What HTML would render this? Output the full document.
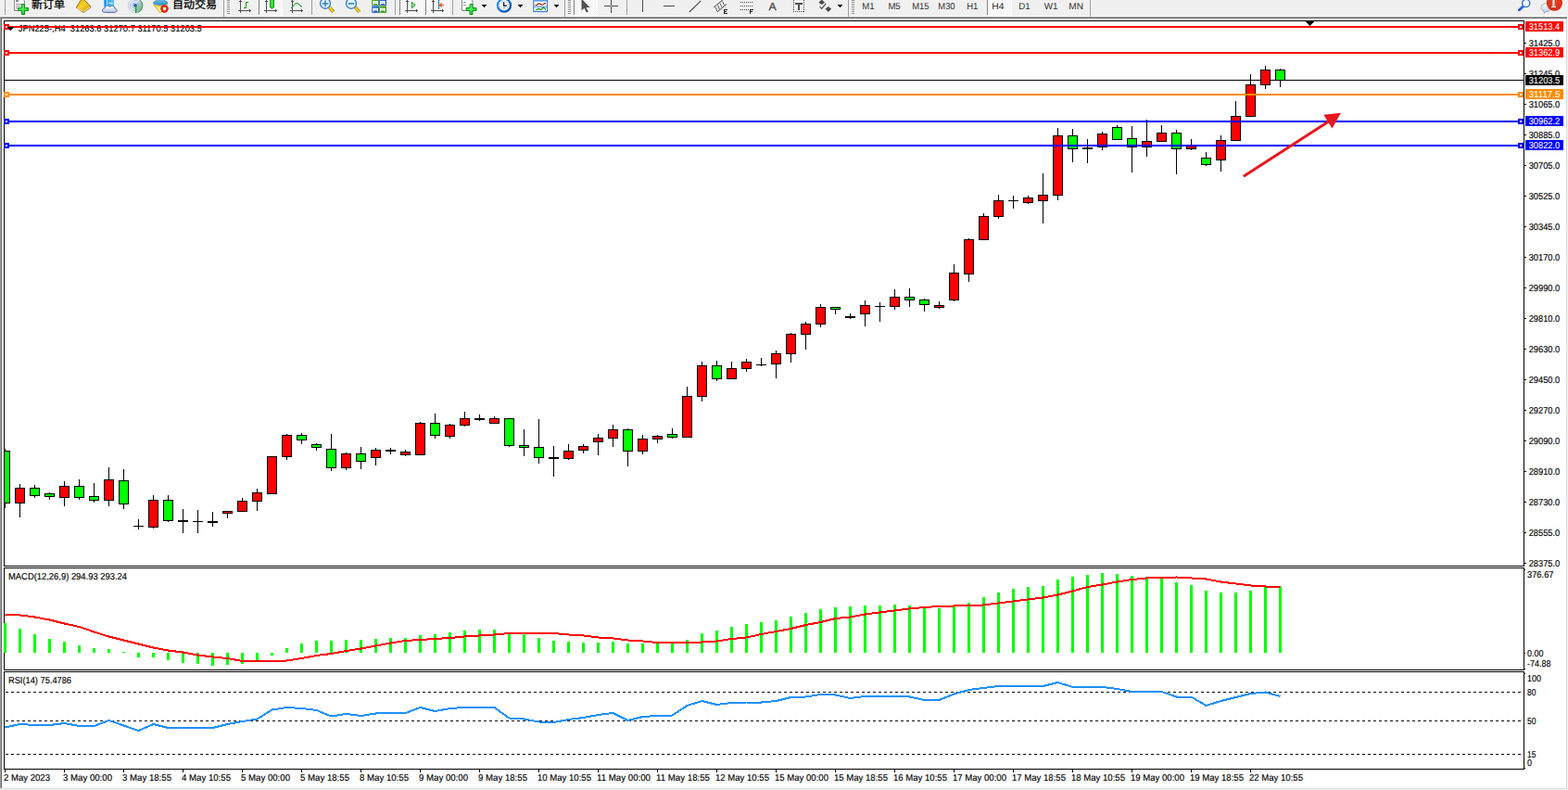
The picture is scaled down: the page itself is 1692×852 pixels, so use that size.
<!DOCTYPE html>
<html><head><meta charset="utf-8"><title>JPN225 H4</title>
<style>
html,body{margin:0;padding:0;background:#f0f0f0;overflow:hidden}
svg{display:block}
text{font-family:"Liberation Sans",sans-serif;white-space:pre}
</style></head><body>
<svg width="1692" height="852" viewBox="0 0 1692 852" shape-rendering="crispEdges" text-rendering="geometricPrecision">
<defs>
<radialGradient id="gplus" cx="0.4" cy="0.4" r="0.7"><stop offset="0" stop-color="#5cf56a"/><stop offset="1" stop-color="#12c424"/></radialGradient>
<linearGradient id="gold" x1="0" y1="0" x2="1" y2="1"><stop offset="0" stop-color="#d99a10"/><stop offset=".45" stop-color="#f8d22a"/><stop offset="1" stop-color="#c88a14"/></linearGradient>
<linearGradient id="cloud" x1="0" y1="0" x2="0" y2="1"><stop offset="0" stop-color="#ffffff"/><stop offset="1" stop-color="#b4c4de"/></linearGradient>
<linearGradient id="bluebox" x1="0" y1="0" x2="1" y2="0"><stop offset="0" stop-color="#0f8ff0"/><stop offset="1" stop-color="#6cc6ff"/></linearGradient>
<linearGradient id="sig" x1="0" y1="0" x2="1" y2="1"><stop offset="0" stop-color="#e8f2e8"/><stop offset="1" stop-color="#3a9e3a"/></linearGradient>
<linearGradient id="clk" x1="0" y1="0" x2="1" y2="1"><stop offset="0" stop-color="#34a4f4"/><stop offset="1" stop-color="#0444a8"/></linearGradient>
<linearGradient id="hat" x1="0" y1="0" x2="0" y2="1"><stop offset="0" stop-color="#7cc8ee"/><stop offset="1" stop-color="#2f94cc"/></linearGradient>
<linearGradient id="fun" x1="0" y1="0" x2="1" y2="1"><stop offset="0" stop-color="#f6d84a"/><stop offset=".6" stop-color="#fbf08a"/><stop offset="1" stop-color="#e0b020"/></linearGradient>
<radialGradient id="redc" cx="0.5" cy="0.5" r="0.5"><stop offset=".6" stop-color="#ee3410"/><stop offset="1" stop-color="#b81c0c"/></radialGradient>
<linearGradient id="tg" x1="0" y1="0" x2="1" y2="1"><stop offset="0" stop-color="#58b424"/><stop offset="1" stop-color="#2c860c"/></linearGradient>
<linearGradient id="tb" x1="0" y1="0" x2="1" y2="1"><stop offset="0" stop-color="#4a82ea"/><stop offset="1" stop-color="#0a38b0"/></linearGradient>
<radialGradient id="badge" cx="0.5" cy="0.35" r="0.7"><stop offset="0" stop-color="#e84828"/><stop offset="1" stop-color="#d02810"/></radialGradient>
<pattern id="chk" width="2" height="2" patternUnits="userSpaceOnUse"><rect width="2" height="2" fill="#fff"/><rect width="1" height="1" fill="#f0f0f0"/><rect x="1" y="1" width="1" height="1" fill="#f0f0f0"/></pattern>

<clipPath id="mainclip"><rect x="5" y="23" width="1639" height="587"/></clipPath>
<clipPath id="tbclip"><rect x="0" y="0" width="1692" height="18"/></clipPath>
<clipPath id="subclip"><rect x="5" y="613" width="1639" height="216"/></clipPath>
</defs>
<rect x="0" y="0" width="1692" height="852" fill="#f0f0f0"/>
<rect x="0" y="20" width="1690" height="830" fill="#fff"/>
<rect x="0" y="17" width="1692" height="1" fill="#f9f9f9"/>
<rect x="0" y="18" width="1691" height="1" fill="#a0a0a0"/>
<rect x="1" y="19" width="1690" height="1" fill="#696969"/>
<rect x="0" y="19" width="1" height="831" fill="#a0a0a0"/>
<rect x="1" y="20" width="1" height="830" fill="#696969"/>
<rect x="1690" y="20" width="1" height="831" fill="#d9d9d9"/>
<rect x="0" y="850" width="1691" height="1" fill="#dedede"/>
<rect x="1691" y="19" width="1" height="833" fill="#f4f4f4"/>
<rect x="4" y="22" width="1641" height="1" fill="#000"/>
<rect x="4" y="22" width="1" height="808" fill="#000"/>
<rect x="1644" y="22" width="1" height="808" fill="#000"/>
<rect x="4" y="610" width="1641" height="1" fill="#000"/>
<rect x="4" y="612" width="1641" height="1" fill="#000"/>
<rect x="4" y="722" width="1641" height="1" fill="#000"/>
<rect x="4" y="724" width="1641" height="1" fill="#000"/>
<rect x="4" y="829" width="1641" height="1" fill="#000"/>
<rect x="4" y="611" width="1" height="1" fill="#fff"/>
<rect x="4" y="723" width="1" height="1" fill="#fff"/>
<rect x="1644" y="611" width="1" height="1" fill="#fff"/>
<rect x="1644" y="723" width="1" height="1" fill="#fff"/>
<text x="19.8" y="34" fill="#000" stroke="#000" stroke-width="0.15" font-size="10" textLength="198" lengthAdjust="spacingAndGlyphs" xml:space="preserve">JPN225-,H4  31263.6 31270.7 31170.5 31203.5</text>
<rect x="5" y="86" width="1639" height="1" fill="#000"/>
<g clip-path="url(#mainclip)">
<rect x="5" y="484" width="1" height="64" fill="#000"/>
<rect x="0" y="486" width="11" height="57" fill="#000"/>
<rect x="1" y="487" width="9" height="55" fill="#00ff00"/>
<rect x="21" y="522" width="1" height="36" fill="#000"/>
<rect x="16" y="526" width="11" height="17" fill="#000"/>
<rect x="17" y="527" width="9" height="15" fill="#ff0000"/>
<rect x="37" y="523" width="1" height="14" fill="#000"/>
<rect x="32" y="526" width="11" height="9" fill="#000"/>
<rect x="33" y="527" width="9" height="7" fill="#00ff00"/>
<rect x="53" y="531" width="1" height="8" fill="#000"/>
<rect x="48" y="532" width="11" height="4" fill="#000"/>
<rect x="49" y="533" width="9" height="2" fill="#00ff00"/>
<rect x="69" y="519" width="1" height="27" fill="#000"/>
<rect x="64" y="524" width="11" height="13" fill="#000"/>
<rect x="65" y="525" width="9" height="11" fill="#ff0000"/>
<rect x="85" y="517" width="1" height="22" fill="#000"/>
<rect x="80" y="524" width="11" height="13" fill="#000"/>
<rect x="81" y="525" width="9" height="11" fill="#00ff00"/>
<rect x="101" y="521" width="1" height="21" fill="#000"/>
<rect x="96" y="535" width="11" height="5" fill="#000"/>
<rect x="97" y="536" width="9" height="3" fill="#00ff00"/>
<rect x="117" y="504" width="1" height="42" fill="#000"/>
<rect x="112" y="517" width="11" height="23" fill="#000"/>
<rect x="113" y="518" width="9" height="21" fill="#ff0000"/>
<rect x="133" y="506" width="1" height="43" fill="#000"/>
<rect x="128" y="518" width="11" height="26" fill="#000"/>
<rect x="129" y="519" width="9" height="24" fill="#00ff00"/>
<rect x="149" y="560" width="1" height="11" fill="#000"/>
<rect x="144" y="567" width="11" height="1" fill="#000"/>
<rect x="165" y="534" width="1" height="36" fill="#000"/>
<rect x="160" y="539" width="11" height="30" fill="#000"/>
<rect x="161" y="540" width="9" height="28" fill="#ff0000"/>
<rect x="181" y="534" width="1" height="29" fill="#000"/>
<rect x="176" y="539" width="11" height="23" fill="#000"/>
<rect x="177" y="540" width="9" height="21" fill="#00ff00"/>
<rect x="197" y="549" width="1" height="26" fill="#000"/>
<rect x="192" y="561" width="11" height="2" fill="#000"/>
<rect x="213" y="550" width="1" height="25" fill="#000"/>
<rect x="208" y="562" width="11" height="1" fill="#000"/>
<rect x="229" y="552" width="1" height="16" fill="#000"/>
<rect x="224" y="562" width="11" height="2" fill="#000"/>
<rect x="245" y="551" width="1" height="8" fill="#000"/>
<rect x="240" y="551" width="11" height="3" fill="#000"/>
<rect x="241" y="552" width="9" height="1" fill="#ff0000"/>
<rect x="261" y="537" width="1" height="15" fill="#000"/>
<rect x="256" y="540" width="11" height="12" fill="#000"/>
<rect x="257" y="541" width="9" height="10" fill="#ff0000"/>
<rect x="277" y="527" width="1" height="24" fill="#000"/>
<rect x="272" y="531" width="11" height="10" fill="#000"/>
<rect x="273" y="532" width="9" height="8" fill="#ff0000"/>
<rect x="293" y="492" width="1" height="41" fill="#000"/>
<rect x="288" y="492" width="11" height="41" fill="#000"/>
<rect x="289" y="493" width="9" height="39" fill="#ff0000"/>
<rect x="309" y="468" width="1" height="28" fill="#000"/>
<rect x="304" y="469" width="11" height="24" fill="#000"/>
<rect x="305" y="470" width="9" height="22" fill="#ff0000"/>
<rect x="325" y="467" width="1" height="12" fill="#000"/>
<rect x="320" y="469" width="11" height="6" fill="#000"/>
<rect x="321" y="470" width="9" height="4" fill="#00ff00"/>
<rect x="341" y="478" width="1" height="8" fill="#000"/>
<rect x="336" y="479" width="11" height="4" fill="#000"/>
<rect x="337" y="480" width="9" height="2" fill="#00ff00"/>
<rect x="357" y="468" width="1" height="40" fill="#000"/>
<rect x="352" y="484" width="11" height="21" fill="#000"/>
<rect x="353" y="485" width="9" height="19" fill="#00ff00"/>
<rect x="373" y="488" width="1" height="19" fill="#000"/>
<rect x="368" y="489" width="11" height="16" fill="#000"/>
<rect x="369" y="490" width="9" height="14" fill="#ff0000"/>
<rect x="389" y="482" width="1" height="24" fill="#000"/>
<rect x="384" y="489" width="11" height="9" fill="#000"/>
<rect x="385" y="490" width="9" height="7" fill="#00ff00"/>
<rect x="405" y="483" width="1" height="19" fill="#000"/>
<rect x="400" y="485" width="11" height="9" fill="#000"/>
<rect x="401" y="486" width="9" height="7" fill="#ff0000"/>
<rect x="421" y="483" width="1" height="7" fill="#000"/>
<rect x="416" y="485" width="11" height="2" fill="#000"/>
<rect x="437" y="485" width="1" height="7" fill="#000"/>
<rect x="432" y="487" width="11" height="4" fill="#000"/>
<rect x="433" y="488" width="9" height="2" fill="#ff0000"/>
<rect x="453" y="455" width="1" height="36" fill="#000"/>
<rect x="448" y="456" width="11" height="35" fill="#000"/>
<rect x="449" y="457" width="9" height="33" fill="#ff0000"/>
<rect x="469" y="446" width="1" height="27" fill="#000"/>
<rect x="464" y="456" width="11" height="14" fill="#000"/>
<rect x="465" y="457" width="9" height="12" fill="#00ff00"/>
<rect x="485" y="457" width="1" height="16" fill="#000"/>
<rect x="480" y="458" width="11" height="13" fill="#000"/>
<rect x="481" y="459" width="9" height="11" fill="#ff0000"/>
<rect x="501" y="444" width="1" height="16" fill="#000"/>
<rect x="496" y="451" width="11" height="8" fill="#000"/>
<rect x="497" y="452" width="9" height="6" fill="#ff0000"/>
<rect x="517" y="447" width="1" height="7" fill="#000"/>
<rect x="512" y="451" width="11" height="2" fill="#000"/>
<rect x="533" y="449" width="1" height="8" fill="#000"/>
<rect x="528" y="451" width="11" height="6" fill="#000"/>
<rect x="529" y="452" width="9" height="4" fill="#ff0000"/>
<rect x="549" y="451" width="1" height="31" fill="#000"/>
<rect x="544" y="451" width="11" height="30" fill="#000"/>
<rect x="545" y="452" width="9" height="28" fill="#00ff00"/>
<rect x="565" y="463" width="1" height="29" fill="#000"/>
<rect x="560" y="480" width="11" height="3" fill="#000"/>
<rect x="561" y="481" width="9" height="1" fill="#00ff00"/>
<rect x="581" y="452" width="1" height="48" fill="#000"/>
<rect x="576" y="482" width="11" height="12" fill="#000"/>
<rect x="577" y="483" width="9" height="10" fill="#00ff00"/>
<rect x="597" y="481" width="1" height="33" fill="#000"/>
<rect x="592" y="493" width="11" height="2" fill="#000"/>
<rect x="613" y="479" width="1" height="17" fill="#000"/>
<rect x="608" y="486" width="11" height="9" fill="#000"/>
<rect x="609" y="487" width="9" height="7" fill="#ff0000"/>
<rect x="629" y="479" width="1" height="10" fill="#000"/>
<rect x="624" y="481" width="11" height="5" fill="#000"/>
<rect x="625" y="482" width="9" height="3" fill="#ff0000"/>
<rect x="645" y="468" width="1" height="23" fill="#000"/>
<rect x="640" y="472" width="11" height="5" fill="#000"/>
<rect x="641" y="473" width="9" height="3" fill="#ff0000"/>
<rect x="661" y="458" width="1" height="24" fill="#000"/>
<rect x="656" y="463" width="11" height="10" fill="#000"/>
<rect x="657" y="464" width="9" height="8" fill="#ff0000"/>
<rect x="677" y="462" width="1" height="41" fill="#000"/>
<rect x="672" y="463" width="11" height="24" fill="#000"/>
<rect x="673" y="464" width="9" height="22" fill="#00ff00"/>
<rect x="693" y="469" width="1" height="21" fill="#000"/>
<rect x="688" y="473" width="11" height="14" fill="#000"/>
<rect x="689" y="474" width="9" height="12" fill="#ff0000"/>
<rect x="709" y="469" width="1" height="9" fill="#000"/>
<rect x="704" y="470" width="11" height="4" fill="#000"/>
<rect x="705" y="471" width="9" height="2" fill="#ff0000"/>
<rect x="725" y="462" width="1" height="11" fill="#000"/>
<rect x="720" y="468" width="11" height="4" fill="#000"/>
<rect x="721" y="469" width="9" height="2" fill="#00ff00"/>
<rect x="741" y="417" width="1" height="55" fill="#000"/>
<rect x="736" y="427" width="11" height="45" fill="#000"/>
<rect x="737" y="428" width="9" height="43" fill="#ff0000"/>
<rect x="757" y="390" width="1" height="43" fill="#000"/>
<rect x="752" y="394" width="11" height="34" fill="#000"/>
<rect x="753" y="395" width="9" height="32" fill="#ff0000"/>
<rect x="773" y="389" width="1" height="22" fill="#000"/>
<rect x="768" y="394" width="11" height="15" fill="#000"/>
<rect x="769" y="395" width="9" height="13" fill="#00ff00"/>
<rect x="789" y="390" width="1" height="19" fill="#000"/>
<rect x="784" y="397" width="11" height="12" fill="#000"/>
<rect x="785" y="398" width="9" height="10" fill="#ff0000"/>
<rect x="805" y="387" width="1" height="14" fill="#000"/>
<rect x="800" y="390" width="11" height="8" fill="#000"/>
<rect x="801" y="391" width="9" height="6" fill="#ff0000"/>
<rect x="821" y="386" width="1" height="9" fill="#000"/>
<rect x="816" y="393" width="11" height="1" fill="#000"/>
<rect x="837" y="378" width="1" height="30" fill="#000"/>
<rect x="832" y="381" width="11" height="12" fill="#000"/>
<rect x="833" y="382" width="9" height="10" fill="#ff0000"/>
<rect x="853" y="359" width="1" height="32" fill="#000"/>
<rect x="848" y="360" width="11" height="22" fill="#000"/>
<rect x="849" y="361" width="9" height="20" fill="#ff0000"/>
<rect x="869" y="347" width="1" height="30" fill="#000"/>
<rect x="864" y="349" width="11" height="12" fill="#000"/>
<rect x="865" y="350" width="9" height="10" fill="#ff0000"/>
<rect x="885" y="328" width="1" height="25" fill="#000"/>
<rect x="880" y="331" width="11" height="19" fill="#000"/>
<rect x="881" y="332" width="9" height="17" fill="#ff0000"/>
<rect x="901" y="331" width="1" height="8" fill="#000"/>
<rect x="896" y="331" width="11" height="3" fill="#000"/>
<rect x="897" y="332" width="9" height="1" fill="#00ff00"/>
<rect x="917" y="338" width="1" height="6" fill="#000"/>
<rect x="912" y="341" width="11" height="2" fill="#000"/>
<rect x="933" y="324" width="1" height="28" fill="#000"/>
<rect x="928" y="329" width="11" height="10" fill="#000"/>
<rect x="929" y="330" width="9" height="8" fill="#ff0000"/>
<rect x="949" y="326" width="1" height="21" fill="#000"/>
<rect x="944" y="330" width="11" height="1" fill="#000"/>
<rect x="965" y="312" width="1" height="22" fill="#000"/>
<rect x="960" y="320" width="11" height="11" fill="#000"/>
<rect x="961" y="321" width="9" height="9" fill="#ff0000"/>
<rect x="981" y="311" width="1" height="20" fill="#000"/>
<rect x="976" y="320" width="11" height="4" fill="#000"/>
<rect x="977" y="321" width="9" height="2" fill="#00ff00"/>
<rect x="997" y="322" width="1" height="14" fill="#000"/>
<rect x="992" y="323" width="11" height="6" fill="#000"/>
<rect x="993" y="324" width="9" height="4" fill="#00ff00"/>
<rect x="1013" y="325" width="1" height="8" fill="#000"/>
<rect x="1008" y="329" width="11" height="3" fill="#000"/>
<rect x="1009" y="330" width="9" height="1" fill="#ff0000"/>
<rect x="1029" y="285" width="1" height="40" fill="#000"/>
<rect x="1024" y="294" width="11" height="30" fill="#000"/>
<rect x="1025" y="295" width="9" height="28" fill="#ff0000"/>
<rect x="1045" y="257" width="1" height="47" fill="#000"/>
<rect x="1040" y="258" width="11" height="38" fill="#000"/>
<rect x="1041" y="259" width="9" height="36" fill="#ff0000"/>
<rect x="1061" y="230" width="1" height="29" fill="#000"/>
<rect x="1056" y="233" width="11" height="26" fill="#000"/>
<rect x="1057" y="234" width="9" height="24" fill="#ff0000"/>
<rect x="1077" y="210" width="1" height="26" fill="#000"/>
<rect x="1072" y="216" width="11" height="18" fill="#000"/>
<rect x="1073" y="217" width="9" height="16" fill="#ff0000"/>
<rect x="1093" y="211" width="1" height="14" fill="#000"/>
<rect x="1088" y="216" width="11" height="1" fill="#000"/>
<rect x="1109" y="211" width="1" height="9" fill="#000"/>
<rect x="1104" y="213" width="11" height="6" fill="#000"/>
<rect x="1105" y="214" width="9" height="4" fill="#ff0000"/>
<rect x="1125" y="187" width="1" height="54" fill="#000"/>
<rect x="1120" y="210" width="11" height="7" fill="#000"/>
<rect x="1121" y="211" width="9" height="5" fill="#ff0000"/>
<rect x="1141" y="138" width="1" height="78" fill="#000"/>
<rect x="1136" y="146" width="11" height="65" fill="#000"/>
<rect x="1137" y="147" width="9" height="63" fill="#ff0000"/>
<rect x="1157" y="139" width="1" height="36" fill="#000"/>
<rect x="1152" y="146" width="11" height="15" fill="#000"/>
<rect x="1153" y="147" width="9" height="13" fill="#00ff00"/>
<rect x="1173" y="150" width="1" height="26" fill="#000"/>
<rect x="1168" y="159" width="11" height="2" fill="#000"/>
<rect x="1189" y="142" width="1" height="20" fill="#000"/>
<rect x="1184" y="144" width="11" height="15" fill="#000"/>
<rect x="1185" y="145" width="9" height="13" fill="#ff0000"/>
<rect x="1205" y="135" width="1" height="16" fill="#000"/>
<rect x="1200" y="137" width="11" height="14" fill="#000"/>
<rect x="1201" y="138" width="9" height="12" fill="#00ff00"/>
<rect x="1221" y="136" width="1" height="50" fill="#000"/>
<rect x="1216" y="149" width="11" height="10" fill="#000"/>
<rect x="1217" y="150" width="9" height="8" fill="#00ff00"/>
<rect x="1237" y="129" width="1" height="40" fill="#000"/>
<rect x="1232" y="152" width="11" height="7" fill="#000"/>
<rect x="1233" y="153" width="9" height="5" fill="#ff0000"/>
<rect x="1253" y="135" width="1" height="18" fill="#000"/>
<rect x="1248" y="143" width="11" height="10" fill="#000"/>
<rect x="1249" y="144" width="9" height="8" fill="#ff0000"/>
<rect x="1269" y="140" width="1" height="48" fill="#000"/>
<rect x="1264" y="143" width="11" height="18" fill="#000"/>
<rect x="1265" y="144" width="9" height="16" fill="#00ff00"/>
<rect x="1285" y="150" width="1" height="12" fill="#000"/>
<rect x="1280" y="157" width="11" height="4" fill="#000"/>
<rect x="1281" y="158" width="9" height="2" fill="#ff0000"/>
<rect x="1301" y="164" width="1" height="15" fill="#000"/>
<rect x="1296" y="170" width="11" height="8" fill="#000"/>
<rect x="1297" y="171" width="9" height="6" fill="#00ff00"/>
<rect x="1317" y="146" width="1" height="39" fill="#000"/>
<rect x="1312" y="151" width="11" height="22" fill="#000"/>
<rect x="1313" y="152" width="9" height="20" fill="#ff0000"/>
<rect x="1333" y="109" width="1" height="43" fill="#000"/>
<rect x="1328" y="125" width="11" height="27" fill="#000"/>
<rect x="1329" y="126" width="9" height="25" fill="#ff0000"/>
<rect x="1349" y="80" width="1" height="46" fill="#000"/>
<rect x="1344" y="91" width="11" height="35" fill="#000"/>
<rect x="1345" y="92" width="9" height="33" fill="#ff0000"/>
<rect x="1365" y="71" width="1" height="25" fill="#000"/>
<rect x="1360" y="75" width="11" height="17" fill="#000"/>
<rect x="1361" y="76" width="9" height="15" fill="#ff0000"/>
<rect x="1381" y="74" width="1" height="20" fill="#000"/>
<rect x="1376" y="75" width="11" height="12" fill="#000"/>
<rect x="1377" y="76" width="9" height="10" fill="#00ff00"/>
</g>
<rect x="1409" y="23" width="9" height="1" fill="#000"/>
<rect x="1410" y="24" width="7" height="1" fill="#000"/>
<rect x="1411" y="25" width="5" height="1" fill="#000"/>
<rect x="1412" y="26" width="3" height="1" fill="#000"/>
<rect x="1413" y="27" width="1" height="1" fill="#000"/>
<rect x="1645" y="46" width="2" height="1" fill="#000"/>
<text x="1649.7" y="50" fill="#000" stroke="#000" stroke-width="0.15" font-size="10" textLength="33.6" lengthAdjust="spacingAndGlyphs" xml:space="preserve">31425.0</text>
<rect x="1645" y="79" width="2" height="1" fill="#000"/>
<text x="1649.7" y="83" fill="#000" stroke="#000" stroke-width="0.15" font-size="10" textLength="33.6" lengthAdjust="spacingAndGlyphs" xml:space="preserve">31245.0</text>
<rect x="1645" y="112" width="2" height="1" fill="#000"/>
<text x="1649.7" y="116" fill="#000" stroke="#000" stroke-width="0.15" font-size="10" textLength="33.6" lengthAdjust="spacingAndGlyphs" xml:space="preserve">31065.0</text>
<rect x="1645" y="145" width="2" height="1" fill="#000"/>
<text x="1649.7" y="149" fill="#000" stroke="#000" stroke-width="0.15" font-size="10" textLength="33.6" lengthAdjust="spacingAndGlyphs" xml:space="preserve">30885.0</text>
<rect x="1645" y="178" width="2" height="1" fill="#000"/>
<text x="1649.7" y="182" fill="#000" stroke="#000" stroke-width="0.15" font-size="10" textLength="33.6" lengthAdjust="spacingAndGlyphs" xml:space="preserve">30705.0</text>
<rect x="1645" y="211" width="2" height="1" fill="#000"/>
<text x="1649.7" y="215" fill="#000" stroke="#000" stroke-width="0.15" font-size="10" textLength="33.6" lengthAdjust="spacingAndGlyphs" xml:space="preserve">30525.0</text>
<rect x="1645" y="244" width="2" height="1" fill="#000"/>
<text x="1649.7" y="248" fill="#000" stroke="#000" stroke-width="0.15" font-size="10" textLength="33.6" lengthAdjust="spacingAndGlyphs" xml:space="preserve">30345.0</text>
<rect x="1645" y="277" width="2" height="1" fill="#000"/>
<text x="1649.7" y="281" fill="#000" stroke="#000" stroke-width="0.15" font-size="10" textLength="33.6" lengthAdjust="spacingAndGlyphs" xml:space="preserve">30170.0</text>
<rect x="1645" y="310" width="2" height="1" fill="#000"/>
<text x="1649.7" y="314" fill="#000" stroke="#000" stroke-width="0.15" font-size="10" textLength="33.6" lengthAdjust="spacingAndGlyphs" xml:space="preserve">29990.0</text>
<rect x="1645" y="343" width="2" height="1" fill="#000"/>
<text x="1649.7" y="347" fill="#000" stroke="#000" stroke-width="0.15" font-size="10" textLength="33.6" lengthAdjust="spacingAndGlyphs" xml:space="preserve">29810.0</text>
<rect x="1645" y="376" width="2" height="1" fill="#000"/>
<text x="1649.7" y="380" fill="#000" stroke="#000" stroke-width="0.15" font-size="10" textLength="33.6" lengthAdjust="spacingAndGlyphs" xml:space="preserve">29630.0</text>
<rect x="1645" y="409" width="2" height="1" fill="#000"/>
<text x="1649.7" y="413" fill="#000" stroke="#000" stroke-width="0.15" font-size="10" textLength="33.6" lengthAdjust="spacingAndGlyphs" xml:space="preserve">29450.0</text>
<rect x="1645" y="442" width="2" height="1" fill="#000"/>
<text x="1649.7" y="446" fill="#000" stroke="#000" stroke-width="0.15" font-size="10" textLength="33.6" lengthAdjust="spacingAndGlyphs" xml:space="preserve">29270.0</text>
<rect x="1645" y="475" width="2" height="1" fill="#000"/>
<text x="1649.7" y="479" fill="#000" stroke="#000" stroke-width="0.15" font-size="10" textLength="33.6" lengthAdjust="spacingAndGlyphs" xml:space="preserve">29090.0</text>
<rect x="1645" y="508" width="2" height="1" fill="#000"/>
<text x="1649.7" y="512" fill="#000" stroke="#000" stroke-width="0.15" font-size="10" textLength="33.6" lengthAdjust="spacingAndGlyphs" xml:space="preserve">28910.0</text>
<rect x="1645" y="541" width="2" height="1" fill="#000"/>
<text x="1649.7" y="545" fill="#000" stroke="#000" stroke-width="0.15" font-size="10" textLength="33.6" lengthAdjust="spacingAndGlyphs" xml:space="preserve">28730.0</text>
<rect x="1645" y="574" width="2" height="1" fill="#000"/>
<text x="1649.7" y="578" fill="#000" stroke="#000" stroke-width="0.15" font-size="10" textLength="33.6" lengthAdjust="spacingAndGlyphs" xml:space="preserve">28555.0</text>
<rect x="1645" y="607" width="2" height="1" fill="#000"/>
<text x="1649.7" y="611" fill="#000" stroke="#000" stroke-width="0.15" font-size="10" textLength="33.6" lengthAdjust="spacingAndGlyphs" xml:space="preserve">28375.0</text>
<rect x="1646" y="81" width="41" height="11" fill="#000"/>
<text x="1649.7" y="90" fill="#fff" stroke="#fff" stroke-width="0.08" font-size="10" textLength="33.6" lengthAdjust="spacingAndGlyphs" xml:space="preserve">31203.5</text>
<rect x="5" y="28" width="1639" height="2" fill="#ff0000"/>
<rect x="4" y="26" width="6" height="6" fill="#ff0000"/>
<rect x="6" y="28" width="2" height="2" fill="#fff"/>
<rect x="1638" y="26" width="6" height="6" fill="#ff0000"/>
<rect x="1640" y="28" width="2" height="2" fill="#fff"/>
<rect x="1646" y="23" width="41" height="11" fill="#ff0000"/>
<text x="1649.7" y="32" fill="#fff" stroke="#fff" stroke-width="0.08" font-size="10" textLength="33.6" lengthAdjust="spacingAndGlyphs" xml:space="preserve">31513.4</text>
<rect x="5" y="56" width="1639" height="2" fill="#ff0000"/>
<rect x="4" y="54" width="6" height="6" fill="#ff0000"/>
<rect x="6" y="56" width="2" height="2" fill="#fff"/>
<rect x="1638" y="54" width="6" height="6" fill="#ff0000"/>
<rect x="1640" y="56" width="2" height="2" fill="#fff"/>
<rect x="1646" y="51" width="41" height="11" fill="#ff0000"/>
<text x="1649.7" y="60" fill="#fff" stroke="#fff" stroke-width="0.08" font-size="10" textLength="33.6" lengthAdjust="spacingAndGlyphs" xml:space="preserve">31362.9</text>
<rect x="5" y="101" width="1639" height="2" fill="#ff8c00"/>
<rect x="4" y="99" width="6" height="6" fill="#ff8c00"/>
<rect x="6" y="101" width="2" height="2" fill="#fff"/>
<rect x="1638" y="99" width="6" height="6" fill="#ff8c00"/>
<rect x="1640" y="101" width="2" height="2" fill="#fff"/>
<rect x="1646" y="96" width="41" height="11" fill="#ff8c00"/>
<text x="1649.7" y="105" fill="#fff" stroke="#fff" stroke-width="0.08" font-size="10" textLength="33.6" lengthAdjust="spacingAndGlyphs" xml:space="preserve">31117.5</text>
<rect x="5" y="130" width="1639" height="2" fill="#0000ff"/>
<rect x="4" y="128" width="6" height="6" fill="#0000ff"/>
<rect x="6" y="130" width="2" height="2" fill="#fff"/>
<rect x="1638" y="128" width="6" height="6" fill="#0000ff"/>
<rect x="1640" y="130" width="2" height="2" fill="#fff"/>
<rect x="1646" y="125" width="41" height="11" fill="#0000ff"/>
<text x="1649.7" y="134" fill="#fff" stroke="#fff" stroke-width="0.08" font-size="10" textLength="33.6" lengthAdjust="spacingAndGlyphs" xml:space="preserve">30962.2</text>
<rect x="5" y="156" width="1639" height="2" fill="#0000ff"/>
<rect x="4" y="154" width="6" height="6" fill="#0000ff"/>
<rect x="6" y="156" width="2" height="2" fill="#fff"/>
<rect x="1638" y="154" width="6" height="6" fill="#0000ff"/>
<rect x="1640" y="156" width="2" height="2" fill="#fff"/>
<rect x="1646" y="151" width="41" height="11" fill="#0000ff"/>
<text x="1649.7" y="160" fill="#fff" stroke="#fff" stroke-width="0.08" font-size="10" textLength="33.6" lengthAdjust="spacingAndGlyphs" xml:space="preserve">30822.0</text>
<rect x="8" y="29" width="7" height="1" fill="#000"/>
<rect x="9" y="30" width="5" height="1" fill="#000"/>
<rect x="10" y="31" width="3" height="1" fill="#000"/>
<rect x="11" y="32" width="1" height="1" fill="#000"/>
<g shape-rendering="geometricPrecision"><line x1="1341.8" y1="190.3" x2="1436" y2="129.6" stroke="#e8161f" stroke-width="3"/><path d="M1447 121.8L1428.2 123.7L1437.5 138.5z" fill="#e8161f"/></g>
<rect x="4" y="672" width="3" height="32" fill="#00ff00"/>
<rect x="20" y="678" width="3" height="26" fill="#00ff00"/>
<rect x="36" y="684" width="3" height="20" fill="#00ff00"/>
<rect x="52" y="689" width="3" height="15" fill="#00ff00"/>
<rect x="68" y="692" width="3" height="12" fill="#00ff00"/>
<rect x="84" y="696" width="3" height="8" fill="#00ff00"/>
<rect x="100" y="699" width="3" height="5" fill="#00ff00"/>
<rect x="116" y="700" width="3" height="4" fill="#00ff00"/>
<rect x="132" y="703" width="3" height="1" fill="#00ff00"/>
<rect x="148" y="704" width="3" height="5" fill="#00ff00"/>
<rect x="164" y="704" width="3" height="5" fill="#00ff00"/>
<rect x="180" y="704" width="3" height="8" fill="#00ff00"/>
<rect x="196" y="704" width="3" height="11" fill="#00ff00"/>
<rect x="212" y="704" width="3" height="12" fill="#00ff00"/>
<rect x="228" y="704" width="3" height="14" fill="#00ff00"/>
<rect x="244" y="704" width="3" height="13" fill="#00ff00"/>
<rect x="260" y="704" width="3" height="12" fill="#00ff00"/>
<rect x="276" y="704" width="3" height="8" fill="#00ff00"/>
<rect x="292" y="704" width="3" height="3" fill="#00ff00"/>
<rect x="308" y="699" width="3" height="5" fill="#00ff00"/>
<rect x="324" y="694" width="3" height="10" fill="#00ff00"/>
<rect x="340" y="691" width="3" height="13" fill="#00ff00"/>
<rect x="356" y="691" width="3" height="13" fill="#00ff00"/>
<rect x="372" y="690" width="3" height="14" fill="#00ff00"/>
<rect x="388" y="690" width="3" height="14" fill="#00ff00"/>
<rect x="404" y="689" width="3" height="15" fill="#00ff00"/>
<rect x="420" y="688" width="3" height="16" fill="#00ff00"/>
<rect x="436" y="688" width="3" height="16" fill="#00ff00"/>
<rect x="452" y="685" width="3" height="19" fill="#00ff00"/>
<rect x="468" y="684" width="3" height="20" fill="#00ff00"/>
<rect x="484" y="682" width="3" height="22" fill="#00ff00"/>
<rect x="500" y="680" width="3" height="24" fill="#00ff00"/>
<rect x="516" y="679" width="3" height="25" fill="#00ff00"/>
<rect x="532" y="679" width="3" height="25" fill="#00ff00"/>
<rect x="548" y="682" width="3" height="22" fill="#00ff00"/>
<rect x="564" y="684" width="3" height="20" fill="#00ff00"/>
<rect x="580" y="688" width="3" height="16" fill="#00ff00"/>
<rect x="596" y="691" width="3" height="13" fill="#00ff00"/>
<rect x="612" y="692" width="3" height="12" fill="#00ff00"/>
<rect x="628" y="693" width="3" height="11" fill="#00ff00"/>
<rect x="644" y="693" width="3" height="11" fill="#00ff00"/>
<rect x="660" y="692" width="3" height="12" fill="#00ff00"/>
<rect x="676" y="694" width="3" height="10" fill="#00ff00"/>
<rect x="692" y="694" width="3" height="10" fill="#00ff00"/>
<rect x="708" y="694" width="3" height="10" fill="#00ff00"/>
<rect x="724" y="693" width="3" height="11" fill="#00ff00"/>
<rect x="740" y="690" width="3" height="14" fill="#00ff00"/>
<rect x="756" y="683" width="3" height="21" fill="#00ff00"/>
<rect x="772" y="680" width="3" height="24" fill="#00ff00"/>
<rect x="788" y="676" width="3" height="28" fill="#00ff00"/>
<rect x="804" y="673" width="3" height="31" fill="#00ff00"/>
<rect x="820" y="671" width="3" height="33" fill="#00ff00"/>
<rect x="836" y="669" width="3" height="35" fill="#00ff00"/>
<rect x="852" y="665" width="3" height="39" fill="#00ff00"/>
<rect x="868" y="661" width="3" height="43" fill="#00ff00"/>
<rect x="884" y="657" width="3" height="47" fill="#00ff00"/>
<rect x="900" y="655" width="3" height="49" fill="#00ff00"/>
<rect x="916" y="654" width="3" height="50" fill="#00ff00"/>
<rect x="932" y="653" width="3" height="51" fill="#00ff00"/>
<rect x="948" y="653" width="3" height="51" fill="#00ff00"/>
<rect x="964" y="652" width="3" height="52" fill="#00ff00"/>
<rect x="980" y="653" width="3" height="51" fill="#00ff00"/>
<rect x="996" y="654" width="3" height="50" fill="#00ff00"/>
<rect x="1012" y="656" width="3" height="48" fill="#00ff00"/>
<rect x="1028" y="654" width="3" height="50" fill="#00ff00"/>
<rect x="1044" y="650" width="3" height="54" fill="#00ff00"/>
<rect x="1060" y="644" width="3" height="60" fill="#00ff00"/>
<rect x="1076" y="639" width="3" height="65" fill="#00ff00"/>
<rect x="1092" y="635" width="3" height="69" fill="#00ff00"/>
<rect x="1108" y="633" width="3" height="71" fill="#00ff00"/>
<rect x="1124" y="632" width="3" height="72" fill="#00ff00"/>
<rect x="1140" y="625" width="3" height="79" fill="#00ff00"/>
<rect x="1156" y="622" width="3" height="82" fill="#00ff00"/>
<rect x="1172" y="620" width="3" height="84" fill="#00ff00"/>
<rect x="1188" y="618" width="3" height="86" fill="#00ff00"/>
<rect x="1204" y="619" width="3" height="85" fill="#00ff00"/>
<rect x="1220" y="621" width="3" height="83" fill="#00ff00"/>
<rect x="1236" y="622" width="3" height="82" fill="#00ff00"/>
<rect x="1252" y="624" width="3" height="80" fill="#00ff00"/>
<rect x="1268" y="628" width="3" height="76" fill="#00ff00"/>
<rect x="1284" y="631" width="3" height="73" fill="#00ff00"/>
<rect x="1300" y="637" width="3" height="67" fill="#00ff00"/>
<rect x="1316" y="639" width="3" height="65" fill="#00ff00"/>
<rect x="1332" y="639" width="3" height="65" fill="#00ff00"/>
<rect x="1348" y="637" width="3" height="67" fill="#00ff00"/>
<rect x="1364" y="633" width="3" height="71" fill="#00ff00"/>
<rect x="1380" y="633" width="3" height="71" fill="#00ff00"/>
<g clip-path="url(#subclip)"><polyline points="5.5,663 21.5,663.5 37.5,665.5 53.5,668.5 69.5,672.5 85.5,676 101.5,681.5 117.5,686.5 133.5,690.5 149.5,694.5 165.5,698.5 181.5,701.5 197.5,703.5 213.5,706.5 229.5,708.5 245.5,710 261.5,713 277.5,713 293.5,713 309.5,712.5 325.5,710 341.5,707 357.5,705 373.5,702 389.5,699.5 405.5,696.5 421.5,693.5 437.5,691 453.5,690 469.5,689 485.5,688 501.5,686.5 517.5,685.5 533.5,684.5 549.5,683 565.5,682.5 581.5,682.5 597.5,683 613.5,684.5 629.5,685.5 645.5,687.5 661.5,688.5 677.5,690.5 693.5,691.5 709.5,693 725.5,693 741.5,693 757.5,692.5 773.5,691.5 789.5,689 805.5,687.5 821.5,684 837.5,681 853.5,678 869.5,674 885.5,671 901.5,667 917.5,665.5 933.5,662.5 949.5,660.5 965.5,658.5 981.5,656.5 997.5,655 1013.5,654 1029.5,653.5 1045.5,653 1061.5,652.5 1077.5,650.5 1093.5,648.5 1109.5,646.5 1125.5,644.5 1141.5,641.5 1157.5,637.5 1173.5,633 1189.5,630.5 1205.5,627.5 1221.5,625 1237.5,623.5 1253.5,623 1269.5,622.5 1285.5,623.5 1301.5,624.5 1317.5,627.5 1333.5,629.5 1349.5,631.5 1365.5,632.5 1381.5,633" fill="none" stroke="#ff0000" stroke-width="2"/></g>
<text x="9" y="625" fill="#000" stroke="#000" stroke-width="0.15" font-size="10" textLength="128" lengthAdjust="spacingAndGlyphs" xml:space="preserve">MACD(12,26,9) 294.93 293.24</text>
<rect x="1645" y="614" width="1" height="1" fill="#000"/>
<text x="1648" y="623" fill="#000" stroke="#000" stroke-width="0.15" font-size="10" textLength="28.5" lengthAdjust="spacingAndGlyphs" xml:space="preserve">376.67</text>
<text x="1648" y="708" fill="#000" stroke="#000" stroke-width="0.15" font-size="10" textLength="17.5" lengthAdjust="spacingAndGlyphs" xml:space="preserve">0.00</text>
<text x="1648" y="719" fill="#000" stroke="#000" stroke-width="0.15" font-size="10" textLength="25.5" lengthAdjust="spacingAndGlyphs" xml:space="preserve">-74.88</text>
<rect x="1645" y="721" width="1" height="1" fill="#000"/>
<rect x="1645" y="704" width="1" height="1" fill="#000"/>
<rect x="6" y="746" width="3" height="1" fill="#000"/>
<rect x="12" y="746" width="3" height="1" fill="#000"/>
<rect x="18" y="746" width="3" height="1" fill="#000"/>
<rect x="24" y="746" width="3" height="1" fill="#000"/>
<rect x="30" y="746" width="3" height="1" fill="#000"/>
<rect x="36" y="746" width="3" height="1" fill="#000"/>
<rect x="42" y="746" width="3" height="1" fill="#000"/>
<rect x="48" y="746" width="3" height="1" fill="#000"/>
<rect x="54" y="746" width="3" height="1" fill="#000"/>
<rect x="60" y="746" width="3" height="1" fill="#000"/>
<rect x="66" y="746" width="3" height="1" fill="#000"/>
<rect x="72" y="746" width="3" height="1" fill="#000"/>
<rect x="78" y="746" width="3" height="1" fill="#000"/>
<rect x="84" y="746" width="3" height="1" fill="#000"/>
<rect x="90" y="746" width="3" height="1" fill="#000"/>
<rect x="96" y="746" width="3" height="1" fill="#000"/>
<rect x="102" y="746" width="3" height="1" fill="#000"/>
<rect x="108" y="746" width="3" height="1" fill="#000"/>
<rect x="114" y="746" width="3" height="1" fill="#000"/>
<rect x="120" y="746" width="3" height="1" fill="#000"/>
<rect x="126" y="746" width="3" height="1" fill="#000"/>
<rect x="132" y="746" width="3" height="1" fill="#000"/>
<rect x="138" y="746" width="3" height="1" fill="#000"/>
<rect x="144" y="746" width="3" height="1" fill="#000"/>
<rect x="150" y="746" width="3" height="1" fill="#000"/>
<rect x="156" y="746" width="3" height="1" fill="#000"/>
<rect x="162" y="746" width="3" height="1" fill="#000"/>
<rect x="168" y="746" width="3" height="1" fill="#000"/>
<rect x="174" y="746" width="3" height="1" fill="#000"/>
<rect x="180" y="746" width="3" height="1" fill="#000"/>
<rect x="186" y="746" width="3" height="1" fill="#000"/>
<rect x="192" y="746" width="3" height="1" fill="#000"/>
<rect x="198" y="746" width="3" height="1" fill="#000"/>
<rect x="204" y="746" width="3" height="1" fill="#000"/>
<rect x="210" y="746" width="3" height="1" fill="#000"/>
<rect x="216" y="746" width="3" height="1" fill="#000"/>
<rect x="222" y="746" width="3" height="1" fill="#000"/>
<rect x="228" y="746" width="3" height="1" fill="#000"/>
<rect x="234" y="746" width="3" height="1" fill="#000"/>
<rect x="240" y="746" width="3" height="1" fill="#000"/>
<rect x="246" y="746" width="3" height="1" fill="#000"/>
<rect x="252" y="746" width="3" height="1" fill="#000"/>
<rect x="258" y="746" width="3" height="1" fill="#000"/>
<rect x="264" y="746" width="3" height="1" fill="#000"/>
<rect x="270" y="746" width="3" height="1" fill="#000"/>
<rect x="276" y="746" width="3" height="1" fill="#000"/>
<rect x="282" y="746" width="3" height="1" fill="#000"/>
<rect x="288" y="746" width="3" height="1" fill="#000"/>
<rect x="294" y="746" width="3" height="1" fill="#000"/>
<rect x="300" y="746" width="3" height="1" fill="#000"/>
<rect x="306" y="746" width="3" height="1" fill="#000"/>
<rect x="312" y="746" width="3" height="1" fill="#000"/>
<rect x="318" y="746" width="3" height="1" fill="#000"/>
<rect x="324" y="746" width="3" height="1" fill="#000"/>
<rect x="330" y="746" width="3" height="1" fill="#000"/>
<rect x="336" y="746" width="3" height="1" fill="#000"/>
<rect x="342" y="746" width="3" height="1" fill="#000"/>
<rect x="348" y="746" width="3" height="1" fill="#000"/>
<rect x="354" y="746" width="3" height="1" fill="#000"/>
<rect x="360" y="746" width="3" height="1" fill="#000"/>
<rect x="366" y="746" width="3" height="1" fill="#000"/>
<rect x="372" y="746" width="3" height="1" fill="#000"/>
<rect x="378" y="746" width="3" height="1" fill="#000"/>
<rect x="384" y="746" width="3" height="1" fill="#000"/>
<rect x="390" y="746" width="3" height="1" fill="#000"/>
<rect x="396" y="746" width="3" height="1" fill="#000"/>
<rect x="402" y="746" width="3" height="1" fill="#000"/>
<rect x="408" y="746" width="3" height="1" fill="#000"/>
<rect x="414" y="746" width="3" height="1" fill="#000"/>
<rect x="420" y="746" width="3" height="1" fill="#000"/>
<rect x="426" y="746" width="3" height="1" fill="#000"/>
<rect x="432" y="746" width="3" height="1" fill="#000"/>
<rect x="438" y="746" width="3" height="1" fill="#000"/>
<rect x="444" y="746" width="3" height="1" fill="#000"/>
<rect x="450" y="746" width="3" height="1" fill="#000"/>
<rect x="456" y="746" width="3" height="1" fill="#000"/>
<rect x="462" y="746" width="3" height="1" fill="#000"/>
<rect x="468" y="746" width="3" height="1" fill="#000"/>
<rect x="474" y="746" width="3" height="1" fill="#000"/>
<rect x="480" y="746" width="3" height="1" fill="#000"/>
<rect x="486" y="746" width="3" height="1" fill="#000"/>
<rect x="492" y="746" width="3" height="1" fill="#000"/>
<rect x="498" y="746" width="3" height="1" fill="#000"/>
<rect x="504" y="746" width="3" height="1" fill="#000"/>
<rect x="510" y="746" width="3" height="1" fill="#000"/>
<rect x="516" y="746" width="3" height="1" fill="#000"/>
<rect x="522" y="746" width="3" height="1" fill="#000"/>
<rect x="528" y="746" width="3" height="1" fill="#000"/>
<rect x="534" y="746" width="3" height="1" fill="#000"/>
<rect x="540" y="746" width="3" height="1" fill="#000"/>
<rect x="546" y="746" width="3" height="1" fill="#000"/>
<rect x="552" y="746" width="3" height="1" fill="#000"/>
<rect x="558" y="746" width="3" height="1" fill="#000"/>
<rect x="564" y="746" width="3" height="1" fill="#000"/>
<rect x="570" y="746" width="3" height="1" fill="#000"/>
<rect x="576" y="746" width="3" height="1" fill="#000"/>
<rect x="582" y="746" width="3" height="1" fill="#000"/>
<rect x="588" y="746" width="3" height="1" fill="#000"/>
<rect x="594" y="746" width="3" height="1" fill="#000"/>
<rect x="600" y="746" width="3" height="1" fill="#000"/>
<rect x="606" y="746" width="3" height="1" fill="#000"/>
<rect x="612" y="746" width="3" height="1" fill="#000"/>
<rect x="618" y="746" width="3" height="1" fill="#000"/>
<rect x="624" y="746" width="3" height="1" fill="#000"/>
<rect x="630" y="746" width="3" height="1" fill="#000"/>
<rect x="636" y="746" width="3" height="1" fill="#000"/>
<rect x="642" y="746" width="3" height="1" fill="#000"/>
<rect x="648" y="746" width="3" height="1" fill="#000"/>
<rect x="654" y="746" width="3" height="1" fill="#000"/>
<rect x="660" y="746" width="3" height="1" fill="#000"/>
<rect x="666" y="746" width="3" height="1" fill="#000"/>
<rect x="672" y="746" width="3" height="1" fill="#000"/>
<rect x="678" y="746" width="3" height="1" fill="#000"/>
<rect x="684" y="746" width="3" height="1" fill="#000"/>
<rect x="690" y="746" width="3" height="1" fill="#000"/>
<rect x="696" y="746" width="3" height="1" fill="#000"/>
<rect x="702" y="746" width="3" height="1" fill="#000"/>
<rect x="708" y="746" width="3" height="1" fill="#000"/>
<rect x="714" y="746" width="3" height="1" fill="#000"/>
<rect x="720" y="746" width="3" height="1" fill="#000"/>
<rect x="726" y="746" width="3" height="1" fill="#000"/>
<rect x="732" y="746" width="3" height="1" fill="#000"/>
<rect x="738" y="746" width="3" height="1" fill="#000"/>
<rect x="744" y="746" width="3" height="1" fill="#000"/>
<rect x="750" y="746" width="3" height="1" fill="#000"/>
<rect x="756" y="746" width="3" height="1" fill="#000"/>
<rect x="762" y="746" width="3" height="1" fill="#000"/>
<rect x="768" y="746" width="3" height="1" fill="#000"/>
<rect x="774" y="746" width="3" height="1" fill="#000"/>
<rect x="780" y="746" width="3" height="1" fill="#000"/>
<rect x="786" y="746" width="3" height="1" fill="#000"/>
<rect x="792" y="746" width="3" height="1" fill="#000"/>
<rect x="798" y="746" width="3" height="1" fill="#000"/>
<rect x="804" y="746" width="3" height="1" fill="#000"/>
<rect x="810" y="746" width="3" height="1" fill="#000"/>
<rect x="816" y="746" width="3" height="1" fill="#000"/>
<rect x="822" y="746" width="3" height="1" fill="#000"/>
<rect x="828" y="746" width="3" height="1" fill="#000"/>
<rect x="834" y="746" width="3" height="1" fill="#000"/>
<rect x="840" y="746" width="3" height="1" fill="#000"/>
<rect x="846" y="746" width="3" height="1" fill="#000"/>
<rect x="852" y="746" width="3" height="1" fill="#000"/>
<rect x="858" y="746" width="3" height="1" fill="#000"/>
<rect x="864" y="746" width="3" height="1" fill="#000"/>
<rect x="870" y="746" width="3" height="1" fill="#000"/>
<rect x="876" y="746" width="3" height="1" fill="#000"/>
<rect x="882" y="746" width="3" height="1" fill="#000"/>
<rect x="888" y="746" width="3" height="1" fill="#000"/>
<rect x="894" y="746" width="3" height="1" fill="#000"/>
<rect x="900" y="746" width="3" height="1" fill="#000"/>
<rect x="906" y="746" width="3" height="1" fill="#000"/>
<rect x="912" y="746" width="3" height="1" fill="#000"/>
<rect x="918" y="746" width="3" height="1" fill="#000"/>
<rect x="924" y="746" width="3" height="1" fill="#000"/>
<rect x="930" y="746" width="3" height="1" fill="#000"/>
<rect x="936" y="746" width="3" height="1" fill="#000"/>
<rect x="942" y="746" width="3" height="1" fill="#000"/>
<rect x="948" y="746" width="3" height="1" fill="#000"/>
<rect x="954" y="746" width="3" height="1" fill="#000"/>
<rect x="960" y="746" width="3" height="1" fill="#000"/>
<rect x="966" y="746" width="3" height="1" fill="#000"/>
<rect x="972" y="746" width="3" height="1" fill="#000"/>
<rect x="978" y="746" width="3" height="1" fill="#000"/>
<rect x="984" y="746" width="3" height="1" fill="#000"/>
<rect x="990" y="746" width="3" height="1" fill="#000"/>
<rect x="996" y="746" width="3" height="1" fill="#000"/>
<rect x="1002" y="746" width="3" height="1" fill="#000"/>
<rect x="1008" y="746" width="3" height="1" fill="#000"/>
<rect x="1014" y="746" width="3" height="1" fill="#000"/>
<rect x="1020" y="746" width="3" height="1" fill="#000"/>
<rect x="1026" y="746" width="3" height="1" fill="#000"/>
<rect x="1032" y="746" width="3" height="1" fill="#000"/>
<rect x="1038" y="746" width="3" height="1" fill="#000"/>
<rect x="1044" y="746" width="3" height="1" fill="#000"/>
<rect x="1050" y="746" width="3" height="1" fill="#000"/>
<rect x="1056" y="746" width="3" height="1" fill="#000"/>
<rect x="1062" y="746" width="3" height="1" fill="#000"/>
<rect x="1068" y="746" width="3" height="1" fill="#000"/>
<rect x="1074" y="746" width="3" height="1" fill="#000"/>
<rect x="1080" y="746" width="3" height="1" fill="#000"/>
<rect x="1086" y="746" width="3" height="1" fill="#000"/>
<rect x="1092" y="746" width="3" height="1" fill="#000"/>
<rect x="1098" y="746" width="3" height="1" fill="#000"/>
<rect x="1104" y="746" width="3" height="1" fill="#000"/>
<rect x="1110" y="746" width="3" height="1" fill="#000"/>
<rect x="1116" y="746" width="3" height="1" fill="#000"/>
<rect x="1122" y="746" width="3" height="1" fill="#000"/>
<rect x="1128" y="746" width="3" height="1" fill="#000"/>
<rect x="1134" y="746" width="3" height="1" fill="#000"/>
<rect x="1140" y="746" width="3" height="1" fill="#000"/>
<rect x="1146" y="746" width="3" height="1" fill="#000"/>
<rect x="1152" y="746" width="3" height="1" fill="#000"/>
<rect x="1158" y="746" width="3" height="1" fill="#000"/>
<rect x="1164" y="746" width="3" height="1" fill="#000"/>
<rect x="1170" y="746" width="3" height="1" fill="#000"/>
<rect x="1176" y="746" width="3" height="1" fill="#000"/>
<rect x="1182" y="746" width="3" height="1" fill="#000"/>
<rect x="1188" y="746" width="3" height="1" fill="#000"/>
<rect x="1194" y="746" width="3" height="1" fill="#000"/>
<rect x="1200" y="746" width="3" height="1" fill="#000"/>
<rect x="1206" y="746" width="3" height="1" fill="#000"/>
<rect x="1212" y="746" width="3" height="1" fill="#000"/>
<rect x="1218" y="746" width="3" height="1" fill="#000"/>
<rect x="1224" y="746" width="3" height="1" fill="#000"/>
<rect x="1230" y="746" width="3" height="1" fill="#000"/>
<rect x="1236" y="746" width="3" height="1" fill="#000"/>
<rect x="1242" y="746" width="3" height="1" fill="#000"/>
<rect x="1248" y="746" width="3" height="1" fill="#000"/>
<rect x="1254" y="746" width="3" height="1" fill="#000"/>
<rect x="1260" y="746" width="3" height="1" fill="#000"/>
<rect x="1266" y="746" width="3" height="1" fill="#000"/>
<rect x="1272" y="746" width="3" height="1" fill="#000"/>
<rect x="1278" y="746" width="3" height="1" fill="#000"/>
<rect x="1284" y="746" width="3" height="1" fill="#000"/>
<rect x="1290" y="746" width="3" height="1" fill="#000"/>
<rect x="1296" y="746" width="3" height="1" fill="#000"/>
<rect x="1302" y="746" width="3" height="1" fill="#000"/>
<rect x="1308" y="746" width="3" height="1" fill="#000"/>
<rect x="1314" y="746" width="3" height="1" fill="#000"/>
<rect x="1320" y="746" width="3" height="1" fill="#000"/>
<rect x="1326" y="746" width="3" height="1" fill="#000"/>
<rect x="1332" y="746" width="3" height="1" fill="#000"/>
<rect x="1338" y="746" width="3" height="1" fill="#000"/>
<rect x="1344" y="746" width="3" height="1" fill="#000"/>
<rect x="1350" y="746" width="3" height="1" fill="#000"/>
<rect x="1356" y="746" width="3" height="1" fill="#000"/>
<rect x="1362" y="746" width="3" height="1" fill="#000"/>
<rect x="1368" y="746" width="3" height="1" fill="#000"/>
<rect x="1374" y="746" width="3" height="1" fill="#000"/>
<rect x="1380" y="746" width="3" height="1" fill="#000"/>
<rect x="1386" y="746" width="3" height="1" fill="#000"/>
<rect x="1392" y="746" width="3" height="1" fill="#000"/>
<rect x="1398" y="746" width="3" height="1" fill="#000"/>
<rect x="1404" y="746" width="3" height="1" fill="#000"/>
<rect x="1410" y="746" width="3" height="1" fill="#000"/>
<rect x="1416" y="746" width="3" height="1" fill="#000"/>
<rect x="1422" y="746" width="3" height="1" fill="#000"/>
<rect x="1428" y="746" width="3" height="1" fill="#000"/>
<rect x="1434" y="746" width="3" height="1" fill="#000"/>
<rect x="1440" y="746" width="3" height="1" fill="#000"/>
<rect x="1446" y="746" width="3" height="1" fill="#000"/>
<rect x="1452" y="746" width="3" height="1" fill="#000"/>
<rect x="1458" y="746" width="3" height="1" fill="#000"/>
<rect x="1464" y="746" width="3" height="1" fill="#000"/>
<rect x="1470" y="746" width="3" height="1" fill="#000"/>
<rect x="1476" y="746" width="3" height="1" fill="#000"/>
<rect x="1482" y="746" width="3" height="1" fill="#000"/>
<rect x="1488" y="746" width="3" height="1" fill="#000"/>
<rect x="1494" y="746" width="3" height="1" fill="#000"/>
<rect x="1500" y="746" width="3" height="1" fill="#000"/>
<rect x="1506" y="746" width="3" height="1" fill="#000"/>
<rect x="1512" y="746" width="3" height="1" fill="#000"/>
<rect x="1518" y="746" width="3" height="1" fill="#000"/>
<rect x="1524" y="746" width="3" height="1" fill="#000"/>
<rect x="1530" y="746" width="3" height="1" fill="#000"/>
<rect x="1536" y="746" width="3" height="1" fill="#000"/>
<rect x="1542" y="746" width="3" height="1" fill="#000"/>
<rect x="1548" y="746" width="3" height="1" fill="#000"/>
<rect x="1554" y="746" width="3" height="1" fill="#000"/>
<rect x="1560" y="746" width="3" height="1" fill="#000"/>
<rect x="1566" y="746" width="3" height="1" fill="#000"/>
<rect x="1572" y="746" width="3" height="1" fill="#000"/>
<rect x="1578" y="746" width="3" height="1" fill="#000"/>
<rect x="1584" y="746" width="3" height="1" fill="#000"/>
<rect x="1590" y="746" width="3" height="1" fill="#000"/>
<rect x="1596" y="746" width="3" height="1" fill="#000"/>
<rect x="1602" y="746" width="3" height="1" fill="#000"/>
<rect x="1608" y="746" width="3" height="1" fill="#000"/>
<rect x="1614" y="746" width="3" height="1" fill="#000"/>
<rect x="1620" y="746" width="3" height="1" fill="#000"/>
<rect x="1626" y="746" width="3" height="1" fill="#000"/>
<rect x="1632" y="746" width="3" height="1" fill="#000"/>
<rect x="1638" y="746" width="3" height="1" fill="#000"/>
<rect x="6" y="777" width="3" height="1" fill="#000"/>
<rect x="12" y="777" width="3" height="1" fill="#000"/>
<rect x="18" y="777" width="3" height="1" fill="#000"/>
<rect x="24" y="777" width="3" height="1" fill="#000"/>
<rect x="30" y="777" width="3" height="1" fill="#000"/>
<rect x="36" y="777" width="3" height="1" fill="#000"/>
<rect x="42" y="777" width="3" height="1" fill="#000"/>
<rect x="48" y="777" width="3" height="1" fill="#000"/>
<rect x="54" y="777" width="3" height="1" fill="#000"/>
<rect x="60" y="777" width="3" height="1" fill="#000"/>
<rect x="66" y="777" width="3" height="1" fill="#000"/>
<rect x="72" y="777" width="3" height="1" fill="#000"/>
<rect x="78" y="777" width="3" height="1" fill="#000"/>
<rect x="84" y="777" width="3" height="1" fill="#000"/>
<rect x="90" y="777" width="3" height="1" fill="#000"/>
<rect x="96" y="777" width="3" height="1" fill="#000"/>
<rect x="102" y="777" width="3" height="1" fill="#000"/>
<rect x="108" y="777" width="3" height="1" fill="#000"/>
<rect x="114" y="777" width="3" height="1" fill="#000"/>
<rect x="120" y="777" width="3" height="1" fill="#000"/>
<rect x="126" y="777" width="3" height="1" fill="#000"/>
<rect x="132" y="777" width="3" height="1" fill="#000"/>
<rect x="138" y="777" width="3" height="1" fill="#000"/>
<rect x="144" y="777" width="3" height="1" fill="#000"/>
<rect x="150" y="777" width="3" height="1" fill="#000"/>
<rect x="156" y="777" width="3" height="1" fill="#000"/>
<rect x="162" y="777" width="3" height="1" fill="#000"/>
<rect x="168" y="777" width="3" height="1" fill="#000"/>
<rect x="174" y="777" width="3" height="1" fill="#000"/>
<rect x="180" y="777" width="3" height="1" fill="#000"/>
<rect x="186" y="777" width="3" height="1" fill="#000"/>
<rect x="192" y="777" width="3" height="1" fill="#000"/>
<rect x="198" y="777" width="3" height="1" fill="#000"/>
<rect x="204" y="777" width="3" height="1" fill="#000"/>
<rect x="210" y="777" width="3" height="1" fill="#000"/>
<rect x="216" y="777" width="3" height="1" fill="#000"/>
<rect x="222" y="777" width="3" height="1" fill="#000"/>
<rect x="228" y="777" width="3" height="1" fill="#000"/>
<rect x="234" y="777" width="3" height="1" fill="#000"/>
<rect x="240" y="777" width="3" height="1" fill="#000"/>
<rect x="246" y="777" width="3" height="1" fill="#000"/>
<rect x="252" y="777" width="3" height="1" fill="#000"/>
<rect x="258" y="777" width="3" height="1" fill="#000"/>
<rect x="264" y="777" width="3" height="1" fill="#000"/>
<rect x="270" y="777" width="3" height="1" fill="#000"/>
<rect x="276" y="777" width="3" height="1" fill="#000"/>
<rect x="282" y="777" width="3" height="1" fill="#000"/>
<rect x="288" y="777" width="3" height="1" fill="#000"/>
<rect x="294" y="777" width="3" height="1" fill="#000"/>
<rect x="300" y="777" width="3" height="1" fill="#000"/>
<rect x="306" y="777" width="3" height="1" fill="#000"/>
<rect x="312" y="777" width="3" height="1" fill="#000"/>
<rect x="318" y="777" width="3" height="1" fill="#000"/>
<rect x="324" y="777" width="3" height="1" fill="#000"/>
<rect x="330" y="777" width="3" height="1" fill="#000"/>
<rect x="336" y="777" width="3" height="1" fill="#000"/>
<rect x="342" y="777" width="3" height="1" fill="#000"/>
<rect x="348" y="777" width="3" height="1" fill="#000"/>
<rect x="354" y="777" width="3" height="1" fill="#000"/>
<rect x="360" y="777" width="3" height="1" fill="#000"/>
<rect x="366" y="777" width="3" height="1" fill="#000"/>
<rect x="372" y="777" width="3" height="1" fill="#000"/>
<rect x="378" y="777" width="3" height="1" fill="#000"/>
<rect x="384" y="777" width="3" height="1" fill="#000"/>
<rect x="390" y="777" width="3" height="1" fill="#000"/>
<rect x="396" y="777" width="3" height="1" fill="#000"/>
<rect x="402" y="777" width="3" height="1" fill="#000"/>
<rect x="408" y="777" width="3" height="1" fill="#000"/>
<rect x="414" y="777" width="3" height="1" fill="#000"/>
<rect x="420" y="777" width="3" height="1" fill="#000"/>
<rect x="426" y="777" width="3" height="1" fill="#000"/>
<rect x="432" y="777" width="3" height="1" fill="#000"/>
<rect x="438" y="777" width="3" height="1" fill="#000"/>
<rect x="444" y="777" width="3" height="1" fill="#000"/>
<rect x="450" y="777" width="3" height="1" fill="#000"/>
<rect x="456" y="777" width="3" height="1" fill="#000"/>
<rect x="462" y="777" width="3" height="1" fill="#000"/>
<rect x="468" y="777" width="3" height="1" fill="#000"/>
<rect x="474" y="777" width="3" height="1" fill="#000"/>
<rect x="480" y="777" width="3" height="1" fill="#000"/>
<rect x="486" y="777" width="3" height="1" fill="#000"/>
<rect x="492" y="777" width="3" height="1" fill="#000"/>
<rect x="498" y="777" width="3" height="1" fill="#000"/>
<rect x="504" y="777" width="3" height="1" fill="#000"/>
<rect x="510" y="777" width="3" height="1" fill="#000"/>
<rect x="516" y="777" width="3" height="1" fill="#000"/>
<rect x="522" y="777" width="3" height="1" fill="#000"/>
<rect x="528" y="777" width="3" height="1" fill="#000"/>
<rect x="534" y="777" width="3" height="1" fill="#000"/>
<rect x="540" y="777" width="3" height="1" fill="#000"/>
<rect x="546" y="777" width="3" height="1" fill="#000"/>
<rect x="552" y="777" width="3" height="1" fill="#000"/>
<rect x="558" y="777" width="3" height="1" fill="#000"/>
<rect x="564" y="777" width="3" height="1" fill="#000"/>
<rect x="570" y="777" width="3" height="1" fill="#000"/>
<rect x="576" y="777" width="3" height="1" fill="#000"/>
<rect x="582" y="777" width="3" height="1" fill="#000"/>
<rect x="588" y="777" width="3" height="1" fill="#000"/>
<rect x="594" y="777" width="3" height="1" fill="#000"/>
<rect x="600" y="777" width="3" height="1" fill="#000"/>
<rect x="606" y="777" width="3" height="1" fill="#000"/>
<rect x="612" y="777" width="3" height="1" fill="#000"/>
<rect x="618" y="777" width="3" height="1" fill="#000"/>
<rect x="624" y="777" width="3" height="1" fill="#000"/>
<rect x="630" y="777" width="3" height="1" fill="#000"/>
<rect x="636" y="777" width="3" height="1" fill="#000"/>
<rect x="642" y="777" width="3" height="1" fill="#000"/>
<rect x="648" y="777" width="3" height="1" fill="#000"/>
<rect x="654" y="777" width="3" height="1" fill="#000"/>
<rect x="660" y="777" width="3" height="1" fill="#000"/>
<rect x="666" y="777" width="3" height="1" fill="#000"/>
<rect x="672" y="777" width="3" height="1" fill="#000"/>
<rect x="678" y="777" width="3" height="1" fill="#000"/>
<rect x="684" y="777" width="3" height="1" fill="#000"/>
<rect x="690" y="777" width="3" height="1" fill="#000"/>
<rect x="696" y="777" width="3" height="1" fill="#000"/>
<rect x="702" y="777" width="3" height="1" fill="#000"/>
<rect x="708" y="777" width="3" height="1" fill="#000"/>
<rect x="714" y="777" width="3" height="1" fill="#000"/>
<rect x="720" y="777" width="3" height="1" fill="#000"/>
<rect x="726" y="777" width="3" height="1" fill="#000"/>
<rect x="732" y="777" width="3" height="1" fill="#000"/>
<rect x="738" y="777" width="3" height="1" fill="#000"/>
<rect x="744" y="777" width="3" height="1" fill="#000"/>
<rect x="750" y="777" width="3" height="1" fill="#000"/>
<rect x="756" y="777" width="3" height="1" fill="#000"/>
<rect x="762" y="777" width="3" height="1" fill="#000"/>
<rect x="768" y="777" width="3" height="1" fill="#000"/>
<rect x="774" y="777" width="3" height="1" fill="#000"/>
<rect x="780" y="777" width="3" height="1" fill="#000"/>
<rect x="786" y="777" width="3" height="1" fill="#000"/>
<rect x="792" y="777" width="3" height="1" fill="#000"/>
<rect x="798" y="777" width="3" height="1" fill="#000"/>
<rect x="804" y="777" width="3" height="1" fill="#000"/>
<rect x="810" y="777" width="3" height="1" fill="#000"/>
<rect x="816" y="777" width="3" height="1" fill="#000"/>
<rect x="822" y="777" width="3" height="1" fill="#000"/>
<rect x="828" y="777" width="3" height="1" fill="#000"/>
<rect x="834" y="777" width="3" height="1" fill="#000"/>
<rect x="840" y="777" width="3" height="1" fill="#000"/>
<rect x="846" y="777" width="3" height="1" fill="#000"/>
<rect x="852" y="777" width="3" height="1" fill="#000"/>
<rect x="858" y="777" width="3" height="1" fill="#000"/>
<rect x="864" y="777" width="3" height="1" fill="#000"/>
<rect x="870" y="777" width="3" height="1" fill="#000"/>
<rect x="876" y="777" width="3" height="1" fill="#000"/>
<rect x="882" y="777" width="3" height="1" fill="#000"/>
<rect x="888" y="777" width="3" height="1" fill="#000"/>
<rect x="894" y="777" width="3" height="1" fill="#000"/>
<rect x="900" y="777" width="3" height="1" fill="#000"/>
<rect x="906" y="777" width="3" height="1" fill="#000"/>
<rect x="912" y="777" width="3" height="1" fill="#000"/>
<rect x="918" y="777" width="3" height="1" fill="#000"/>
<rect x="924" y="777" width="3" height="1" fill="#000"/>
<rect x="930" y="777" width="3" height="1" fill="#000"/>
<rect x="936" y="777" width="3" height="1" fill="#000"/>
<rect x="942" y="777" width="3" height="1" fill="#000"/>
<rect x="948" y="777" width="3" height="1" fill="#000"/>
<rect x="954" y="777" width="3" height="1" fill="#000"/>
<rect x="960" y="777" width="3" height="1" fill="#000"/>
<rect x="966" y="777" width="3" height="1" fill="#000"/>
<rect x="972" y="777" width="3" height="1" fill="#000"/>
<rect x="978" y="777" width="3" height="1" fill="#000"/>
<rect x="984" y="777" width="3" height="1" fill="#000"/>
<rect x="990" y="777" width="3" height="1" fill="#000"/>
<rect x="996" y="777" width="3" height="1" fill="#000"/>
<rect x="1002" y="777" width="3" height="1" fill="#000"/>
<rect x="1008" y="777" width="3" height="1" fill="#000"/>
<rect x="1014" y="777" width="3" height="1" fill="#000"/>
<rect x="1020" y="777" width="3" height="1" fill="#000"/>
<rect x="1026" y="777" width="3" height="1" fill="#000"/>
<rect x="1032" y="777" width="3" height="1" fill="#000"/>
<rect x="1038" y="777" width="3" height="1" fill="#000"/>
<rect x="1044" y="777" width="3" height="1" fill="#000"/>
<rect x="1050" y="777" width="3" height="1" fill="#000"/>
<rect x="1056" y="777" width="3" height="1" fill="#000"/>
<rect x="1062" y="777" width="3" height="1" fill="#000"/>
<rect x="1068" y="777" width="3" height="1" fill="#000"/>
<rect x="1074" y="777" width="3" height="1" fill="#000"/>
<rect x="1080" y="777" width="3" height="1" fill="#000"/>
<rect x="1086" y="777" width="3" height="1" fill="#000"/>
<rect x="1092" y="777" width="3" height="1" fill="#000"/>
<rect x="1098" y="777" width="3" height="1" fill="#000"/>
<rect x="1104" y="777" width="3" height="1" fill="#000"/>
<rect x="1110" y="777" width="3" height="1" fill="#000"/>
<rect x="1116" y="777" width="3" height="1" fill="#000"/>
<rect x="1122" y="777" width="3" height="1" fill="#000"/>
<rect x="1128" y="777" width="3" height="1" fill="#000"/>
<rect x="1134" y="777" width="3" height="1" fill="#000"/>
<rect x="1140" y="777" width="3" height="1" fill="#000"/>
<rect x="1146" y="777" width="3" height="1" fill="#000"/>
<rect x="1152" y="777" width="3" height="1" fill="#000"/>
<rect x="1158" y="777" width="3" height="1" fill="#000"/>
<rect x="1164" y="777" width="3" height="1" fill="#000"/>
<rect x="1170" y="777" width="3" height="1" fill="#000"/>
<rect x="1176" y="777" width="3" height="1" fill="#000"/>
<rect x="1182" y="777" width="3" height="1" fill="#000"/>
<rect x="1188" y="777" width="3" height="1" fill="#000"/>
<rect x="1194" y="777" width="3" height="1" fill="#000"/>
<rect x="1200" y="777" width="3" height="1" fill="#000"/>
<rect x="1206" y="777" width="3" height="1" fill="#000"/>
<rect x="1212" y="777" width="3" height="1" fill="#000"/>
<rect x="1218" y="777" width="3" height="1" fill="#000"/>
<rect x="1224" y="777" width="3" height="1" fill="#000"/>
<rect x="1230" y="777" width="3" height="1" fill="#000"/>
<rect x="1236" y="777" width="3" height="1" fill="#000"/>
<rect x="1242" y="777" width="3" height="1" fill="#000"/>
<rect x="1248" y="777" width="3" height="1" fill="#000"/>
<rect x="1254" y="777" width="3" height="1" fill="#000"/>
<rect x="1260" y="777" width="3" height="1" fill="#000"/>
<rect x="1266" y="777" width="3" height="1" fill="#000"/>
<rect x="1272" y="777" width="3" height="1" fill="#000"/>
<rect x="1278" y="777" width="3" height="1" fill="#000"/>
<rect x="1284" y="777" width="3" height="1" fill="#000"/>
<rect x="1290" y="777" width="3" height="1" fill="#000"/>
<rect x="1296" y="777" width="3" height="1" fill="#000"/>
<rect x="1302" y="777" width="3" height="1" fill="#000"/>
<rect x="1308" y="777" width="3" height="1" fill="#000"/>
<rect x="1314" y="777" width="3" height="1" fill="#000"/>
<rect x="1320" y="777" width="3" height="1" fill="#000"/>
<rect x="1326" y="777" width="3" height="1" fill="#000"/>
<rect x="1332" y="777" width="3" height="1" fill="#000"/>
<rect x="1338" y="777" width="3" height="1" fill="#000"/>
<rect x="1344" y="777" width="3" height="1" fill="#000"/>
<rect x="1350" y="777" width="3" height="1" fill="#000"/>
<rect x="1356" y="777" width="3" height="1" fill="#000"/>
<rect x="1362" y="777" width="3" height="1" fill="#000"/>
<rect x="1368" y="777" width="3" height="1" fill="#000"/>
<rect x="1374" y="777" width="3" height="1" fill="#000"/>
<rect x="1380" y="777" width="3" height="1" fill="#000"/>
<rect x="1386" y="777" width="3" height="1" fill="#000"/>
<rect x="1392" y="777" width="3" height="1" fill="#000"/>
<rect x="1398" y="777" width="3" height="1" fill="#000"/>
<rect x="1404" y="777" width="3" height="1" fill="#000"/>
<rect x="1410" y="777" width="3" height="1" fill="#000"/>
<rect x="1416" y="777" width="3" height="1" fill="#000"/>
<rect x="1422" y="777" width="3" height="1" fill="#000"/>
<rect x="1428" y="777" width="3" height="1" fill="#000"/>
<rect x="1434" y="777" width="3" height="1" fill="#000"/>
<rect x="1440" y="777" width="3" height="1" fill="#000"/>
<rect x="1446" y="777" width="3" height="1" fill="#000"/>
<rect x="1452" y="777" width="3" height="1" fill="#000"/>
<rect x="1458" y="777" width="3" height="1" fill="#000"/>
<rect x="1464" y="777" width="3" height="1" fill="#000"/>
<rect x="1470" y="777" width="3" height="1" fill="#000"/>
<rect x="1476" y="777" width="3" height="1" fill="#000"/>
<rect x="1482" y="777" width="3" height="1" fill="#000"/>
<rect x="1488" y="777" width="3" height="1" fill="#000"/>
<rect x="1494" y="777" width="3" height="1" fill="#000"/>
<rect x="1500" y="777" width="3" height="1" fill="#000"/>
<rect x="1506" y="777" width="3" height="1" fill="#000"/>
<rect x="1512" y="777" width="3" height="1" fill="#000"/>
<rect x="1518" y="777" width="3" height="1" fill="#000"/>
<rect x="1524" y="777" width="3" height="1" fill="#000"/>
<rect x="1530" y="777" width="3" height="1" fill="#000"/>
<rect x="1536" y="777" width="3" height="1" fill="#000"/>
<rect x="1542" y="777" width="3" height="1" fill="#000"/>
<rect x="1548" y="777" width="3" height="1" fill="#000"/>
<rect x="1554" y="777" width="3" height="1" fill="#000"/>
<rect x="1560" y="777" width="3" height="1" fill="#000"/>
<rect x="1566" y="777" width="3" height="1" fill="#000"/>
<rect x="1572" y="777" width="3" height="1" fill="#000"/>
<rect x="1578" y="777" width="3" height="1" fill="#000"/>
<rect x="1584" y="777" width="3" height="1" fill="#000"/>
<rect x="1590" y="777" width="3" height="1" fill="#000"/>
<rect x="1596" y="777" width="3" height="1" fill="#000"/>
<rect x="1602" y="777" width="3" height="1" fill="#000"/>
<rect x="1608" y="777" width="3" height="1" fill="#000"/>
<rect x="1614" y="777" width="3" height="1" fill="#000"/>
<rect x="1620" y="777" width="3" height="1" fill="#000"/>
<rect x="1626" y="777" width="3" height="1" fill="#000"/>
<rect x="1632" y="777" width="3" height="1" fill="#000"/>
<rect x="1638" y="777" width="3" height="1" fill="#000"/>
<rect x="6" y="813" width="3" height="1" fill="#000"/>
<rect x="12" y="813" width="3" height="1" fill="#000"/>
<rect x="18" y="813" width="3" height="1" fill="#000"/>
<rect x="24" y="813" width="3" height="1" fill="#000"/>
<rect x="30" y="813" width="3" height="1" fill="#000"/>
<rect x="36" y="813" width="3" height="1" fill="#000"/>
<rect x="42" y="813" width="3" height="1" fill="#000"/>
<rect x="48" y="813" width="3" height="1" fill="#000"/>
<rect x="54" y="813" width="3" height="1" fill="#000"/>
<rect x="60" y="813" width="3" height="1" fill="#000"/>
<rect x="66" y="813" width="3" height="1" fill="#000"/>
<rect x="72" y="813" width="3" height="1" fill="#000"/>
<rect x="78" y="813" width="3" height="1" fill="#000"/>
<rect x="84" y="813" width="3" height="1" fill="#000"/>
<rect x="90" y="813" width="3" height="1" fill="#000"/>
<rect x="96" y="813" width="3" height="1" fill="#000"/>
<rect x="102" y="813" width="3" height="1" fill="#000"/>
<rect x="108" y="813" width="3" height="1" fill="#000"/>
<rect x="114" y="813" width="3" height="1" fill="#000"/>
<rect x="120" y="813" width="3" height="1" fill="#000"/>
<rect x="126" y="813" width="3" height="1" fill="#000"/>
<rect x="132" y="813" width="3" height="1" fill="#000"/>
<rect x="138" y="813" width="3" height="1" fill="#000"/>
<rect x="144" y="813" width="3" height="1" fill="#000"/>
<rect x="150" y="813" width="3" height="1" fill="#000"/>
<rect x="156" y="813" width="3" height="1" fill="#000"/>
<rect x="162" y="813" width="3" height="1" fill="#000"/>
<rect x="168" y="813" width="3" height="1" fill="#000"/>
<rect x="174" y="813" width="3" height="1" fill="#000"/>
<rect x="180" y="813" width="3" height="1" fill="#000"/>
<rect x="186" y="813" width="3" height="1" fill="#000"/>
<rect x="192" y="813" width="3" height="1" fill="#000"/>
<rect x="198" y="813" width="3" height="1" fill="#000"/>
<rect x="204" y="813" width="3" height="1" fill="#000"/>
<rect x="210" y="813" width="3" height="1" fill="#000"/>
<rect x="216" y="813" width="3" height="1" fill="#000"/>
<rect x="222" y="813" width="3" height="1" fill="#000"/>
<rect x="228" y="813" width="3" height="1" fill="#000"/>
<rect x="234" y="813" width="3" height="1" fill="#000"/>
<rect x="240" y="813" width="3" height="1" fill="#000"/>
<rect x="246" y="813" width="3" height="1" fill="#000"/>
<rect x="252" y="813" width="3" height="1" fill="#000"/>
<rect x="258" y="813" width="3" height="1" fill="#000"/>
<rect x="264" y="813" width="3" height="1" fill="#000"/>
<rect x="270" y="813" width="3" height="1" fill="#000"/>
<rect x="276" y="813" width="3" height="1" fill="#000"/>
<rect x="282" y="813" width="3" height="1" fill="#000"/>
<rect x="288" y="813" width="3" height="1" fill="#000"/>
<rect x="294" y="813" width="3" height="1" fill="#000"/>
<rect x="300" y="813" width="3" height="1" fill="#000"/>
<rect x="306" y="813" width="3" height="1" fill="#000"/>
<rect x="312" y="813" width="3" height="1" fill="#000"/>
<rect x="318" y="813" width="3" height="1" fill="#000"/>
<rect x="324" y="813" width="3" height="1" fill="#000"/>
<rect x="330" y="813" width="3" height="1" fill="#000"/>
<rect x="336" y="813" width="3" height="1" fill="#000"/>
<rect x="342" y="813" width="3" height="1" fill="#000"/>
<rect x="348" y="813" width="3" height="1" fill="#000"/>
<rect x="354" y="813" width="3" height="1" fill="#000"/>
<rect x="360" y="813" width="3" height="1" fill="#000"/>
<rect x="366" y="813" width="3" height="1" fill="#000"/>
<rect x="372" y="813" width="3" height="1" fill="#000"/>
<rect x="378" y="813" width="3" height="1" fill="#000"/>
<rect x="384" y="813" width="3" height="1" fill="#000"/>
<rect x="390" y="813" width="3" height="1" fill="#000"/>
<rect x="396" y="813" width="3" height="1" fill="#000"/>
<rect x="402" y="813" width="3" height="1" fill="#000"/>
<rect x="408" y="813" width="3" height="1" fill="#000"/>
<rect x="414" y="813" width="3" height="1" fill="#000"/>
<rect x="420" y="813" width="3" height="1" fill="#000"/>
<rect x="426" y="813" width="3" height="1" fill="#000"/>
<rect x="432" y="813" width="3" height="1" fill="#000"/>
<rect x="438" y="813" width="3" height="1" fill="#000"/>
<rect x="444" y="813" width="3" height="1" fill="#000"/>
<rect x="450" y="813" width="3" height="1" fill="#000"/>
<rect x="456" y="813" width="3" height="1" fill="#000"/>
<rect x="462" y="813" width="3" height="1" fill="#000"/>
<rect x="468" y="813" width="3" height="1" fill="#000"/>
<rect x="474" y="813" width="3" height="1" fill="#000"/>
<rect x="480" y="813" width="3" height="1" fill="#000"/>
<rect x="486" y="813" width="3" height="1" fill="#000"/>
<rect x="492" y="813" width="3" height="1" fill="#000"/>
<rect x="498" y="813" width="3" height="1" fill="#000"/>
<rect x="504" y="813" width="3" height="1" fill="#000"/>
<rect x="510" y="813" width="3" height="1" fill="#000"/>
<rect x="516" y="813" width="3" height="1" fill="#000"/>
<rect x="522" y="813" width="3" height="1" fill="#000"/>
<rect x="528" y="813" width="3" height="1" fill="#000"/>
<rect x="534" y="813" width="3" height="1" fill="#000"/>
<rect x="540" y="813" width="3" height="1" fill="#000"/>
<rect x="546" y="813" width="3" height="1" fill="#000"/>
<rect x="552" y="813" width="3" height="1" fill="#000"/>
<rect x="558" y="813" width="3" height="1" fill="#000"/>
<rect x="564" y="813" width="3" height="1" fill="#000"/>
<rect x="570" y="813" width="3" height="1" fill="#000"/>
<rect x="576" y="813" width="3" height="1" fill="#000"/>
<rect x="582" y="813" width="3" height="1" fill="#000"/>
<rect x="588" y="813" width="3" height="1" fill="#000"/>
<rect x="594" y="813" width="3" height="1" fill="#000"/>
<rect x="600" y="813" width="3" height="1" fill="#000"/>
<rect x="606" y="813" width="3" height="1" fill="#000"/>
<rect x="612" y="813" width="3" height="1" fill="#000"/>
<rect x="618" y="813" width="3" height="1" fill="#000"/>
<rect x="624" y="813" width="3" height="1" fill="#000"/>
<rect x="630" y="813" width="3" height="1" fill="#000"/>
<rect x="636" y="813" width="3" height="1" fill="#000"/>
<rect x="642" y="813" width="3" height="1" fill="#000"/>
<rect x="648" y="813" width="3" height="1" fill="#000"/>
<rect x="654" y="813" width="3" height="1" fill="#000"/>
<rect x="660" y="813" width="3" height="1" fill="#000"/>
<rect x="666" y="813" width="3" height="1" fill="#000"/>
<rect x="672" y="813" width="3" height="1" fill="#000"/>
<rect x="678" y="813" width="3" height="1" fill="#000"/>
<rect x="684" y="813" width="3" height="1" fill="#000"/>
<rect x="690" y="813" width="3" height="1" fill="#000"/>
<rect x="696" y="813" width="3" height="1" fill="#000"/>
<rect x="702" y="813" width="3" height="1" fill="#000"/>
<rect x="708" y="813" width="3" height="1" fill="#000"/>
<rect x="714" y="813" width="3" height="1" fill="#000"/>
<rect x="720" y="813" width="3" height="1" fill="#000"/>
<rect x="726" y="813" width="3" height="1" fill="#000"/>
<rect x="732" y="813" width="3" height="1" fill="#000"/>
<rect x="738" y="813" width="3" height="1" fill="#000"/>
<rect x="744" y="813" width="3" height="1" fill="#000"/>
<rect x="750" y="813" width="3" height="1" fill="#000"/>
<rect x="756" y="813" width="3" height="1" fill="#000"/>
<rect x="762" y="813" width="3" height="1" fill="#000"/>
<rect x="768" y="813" width="3" height="1" fill="#000"/>
<rect x="774" y="813" width="3" height="1" fill="#000"/>
<rect x="780" y="813" width="3" height="1" fill="#000"/>
<rect x="786" y="813" width="3" height="1" fill="#000"/>
<rect x="792" y="813" width="3" height="1" fill="#000"/>
<rect x="798" y="813" width="3" height="1" fill="#000"/>
<rect x="804" y="813" width="3" height="1" fill="#000"/>
<rect x="810" y="813" width="3" height="1" fill="#000"/>
<rect x="816" y="813" width="3" height="1" fill="#000"/>
<rect x="822" y="813" width="3" height="1" fill="#000"/>
<rect x="828" y="813" width="3" height="1" fill="#000"/>
<rect x="834" y="813" width="3" height="1" fill="#000"/>
<rect x="840" y="813" width="3" height="1" fill="#000"/>
<rect x="846" y="813" width="3" height="1" fill="#000"/>
<rect x="852" y="813" width="3" height="1" fill="#000"/>
<rect x="858" y="813" width="3" height="1" fill="#000"/>
<rect x="864" y="813" width="3" height="1" fill="#000"/>
<rect x="870" y="813" width="3" height="1" fill="#000"/>
<rect x="876" y="813" width="3" height="1" fill="#000"/>
<rect x="882" y="813" width="3" height="1" fill="#000"/>
<rect x="888" y="813" width="3" height="1" fill="#000"/>
<rect x="894" y="813" width="3" height="1" fill="#000"/>
<rect x="900" y="813" width="3" height="1" fill="#000"/>
<rect x="906" y="813" width="3" height="1" fill="#000"/>
<rect x="912" y="813" width="3" height="1" fill="#000"/>
<rect x="918" y="813" width="3" height="1" fill="#000"/>
<rect x="924" y="813" width="3" height="1" fill="#000"/>
<rect x="930" y="813" width="3" height="1" fill="#000"/>
<rect x="936" y="813" width="3" height="1" fill="#000"/>
<rect x="942" y="813" width="3" height="1" fill="#000"/>
<rect x="948" y="813" width="3" height="1" fill="#000"/>
<rect x="954" y="813" width="3" height="1" fill="#000"/>
<rect x="960" y="813" width="3" height="1" fill="#000"/>
<rect x="966" y="813" width="3" height="1" fill="#000"/>
<rect x="972" y="813" width="3" height="1" fill="#000"/>
<rect x="978" y="813" width="3" height="1" fill="#000"/>
<rect x="984" y="813" width="3" height="1" fill="#000"/>
<rect x="990" y="813" width="3" height="1" fill="#000"/>
<rect x="996" y="813" width="3" height="1" fill="#000"/>
<rect x="1002" y="813" width="3" height="1" fill="#000"/>
<rect x="1008" y="813" width="3" height="1" fill="#000"/>
<rect x="1014" y="813" width="3" height="1" fill="#000"/>
<rect x="1020" y="813" width="3" height="1" fill="#000"/>
<rect x="1026" y="813" width="3" height="1" fill="#000"/>
<rect x="1032" y="813" width="3" height="1" fill="#000"/>
<rect x="1038" y="813" width="3" height="1" fill="#000"/>
<rect x="1044" y="813" width="3" height="1" fill="#000"/>
<rect x="1050" y="813" width="3" height="1" fill="#000"/>
<rect x="1056" y="813" width="3" height="1" fill="#000"/>
<rect x="1062" y="813" width="3" height="1" fill="#000"/>
<rect x="1068" y="813" width="3" height="1" fill="#000"/>
<rect x="1074" y="813" width="3" height="1" fill="#000"/>
<rect x="1080" y="813" width="3" height="1" fill="#000"/>
<rect x="1086" y="813" width="3" height="1" fill="#000"/>
<rect x="1092" y="813" width="3" height="1" fill="#000"/>
<rect x="1098" y="813" width="3" height="1" fill="#000"/>
<rect x="1104" y="813" width="3" height="1" fill="#000"/>
<rect x="1110" y="813" width="3" height="1" fill="#000"/>
<rect x="1116" y="813" width="3" height="1" fill="#000"/>
<rect x="1122" y="813" width="3" height="1" fill="#000"/>
<rect x="1128" y="813" width="3" height="1" fill="#000"/>
<rect x="1134" y="813" width="3" height="1" fill="#000"/>
<rect x="1140" y="813" width="3" height="1" fill="#000"/>
<rect x="1146" y="813" width="3" height="1" fill="#000"/>
<rect x="1152" y="813" width="3" height="1" fill="#000"/>
<rect x="1158" y="813" width="3" height="1" fill="#000"/>
<rect x="1164" y="813" width="3" height="1" fill="#000"/>
<rect x="1170" y="813" width="3" height="1" fill="#000"/>
<rect x="1176" y="813" width="3" height="1" fill="#000"/>
<rect x="1182" y="813" width="3" height="1" fill="#000"/>
<rect x="1188" y="813" width="3" height="1" fill="#000"/>
<rect x="1194" y="813" width="3" height="1" fill="#000"/>
<rect x="1200" y="813" width="3" height="1" fill="#000"/>
<rect x="1206" y="813" width="3" height="1" fill="#000"/>
<rect x="1212" y="813" width="3" height="1" fill="#000"/>
<rect x="1218" y="813" width="3" height="1" fill="#000"/>
<rect x="1224" y="813" width="3" height="1" fill="#000"/>
<rect x="1230" y="813" width="3" height="1" fill="#000"/>
<rect x="1236" y="813" width="3" height="1" fill="#000"/>
<rect x="1242" y="813" width="3" height="1" fill="#000"/>
<rect x="1248" y="813" width="3" height="1" fill="#000"/>
<rect x="1254" y="813" width="3" height="1" fill="#000"/>
<rect x="1260" y="813" width="3" height="1" fill="#000"/>
<rect x="1266" y="813" width="3" height="1" fill="#000"/>
<rect x="1272" y="813" width="3" height="1" fill="#000"/>
<rect x="1278" y="813" width="3" height="1" fill="#000"/>
<rect x="1284" y="813" width="3" height="1" fill="#000"/>
<rect x="1290" y="813" width="3" height="1" fill="#000"/>
<rect x="1296" y="813" width="3" height="1" fill="#000"/>
<rect x="1302" y="813" width="3" height="1" fill="#000"/>
<rect x="1308" y="813" width="3" height="1" fill="#000"/>
<rect x="1314" y="813" width="3" height="1" fill="#000"/>
<rect x="1320" y="813" width="3" height="1" fill="#000"/>
<rect x="1326" y="813" width="3" height="1" fill="#000"/>
<rect x="1332" y="813" width="3" height="1" fill="#000"/>
<rect x="1338" y="813" width="3" height="1" fill="#000"/>
<rect x="1344" y="813" width="3" height="1" fill="#000"/>
<rect x="1350" y="813" width="3" height="1" fill="#000"/>
<rect x="1356" y="813" width="3" height="1" fill="#000"/>
<rect x="1362" y="813" width="3" height="1" fill="#000"/>
<rect x="1368" y="813" width="3" height="1" fill="#000"/>
<rect x="1374" y="813" width="3" height="1" fill="#000"/>
<rect x="1380" y="813" width="3" height="1" fill="#000"/>
<rect x="1386" y="813" width="3" height="1" fill="#000"/>
<rect x="1392" y="813" width="3" height="1" fill="#000"/>
<rect x="1398" y="813" width="3" height="1" fill="#000"/>
<rect x="1404" y="813" width="3" height="1" fill="#000"/>
<rect x="1410" y="813" width="3" height="1" fill="#000"/>
<rect x="1416" y="813" width="3" height="1" fill="#000"/>
<rect x="1422" y="813" width="3" height="1" fill="#000"/>
<rect x="1428" y="813" width="3" height="1" fill="#000"/>
<rect x="1434" y="813" width="3" height="1" fill="#000"/>
<rect x="1440" y="813" width="3" height="1" fill="#000"/>
<rect x="1446" y="813" width="3" height="1" fill="#000"/>
<rect x="1452" y="813" width="3" height="1" fill="#000"/>
<rect x="1458" y="813" width="3" height="1" fill="#000"/>
<rect x="1464" y="813" width="3" height="1" fill="#000"/>
<rect x="1470" y="813" width="3" height="1" fill="#000"/>
<rect x="1476" y="813" width="3" height="1" fill="#000"/>
<rect x="1482" y="813" width="3" height="1" fill="#000"/>
<rect x="1488" y="813" width="3" height="1" fill="#000"/>
<rect x="1494" y="813" width="3" height="1" fill="#000"/>
<rect x="1500" y="813" width="3" height="1" fill="#000"/>
<rect x="1506" y="813" width="3" height="1" fill="#000"/>
<rect x="1512" y="813" width="3" height="1" fill="#000"/>
<rect x="1518" y="813" width="3" height="1" fill="#000"/>
<rect x="1524" y="813" width="3" height="1" fill="#000"/>
<rect x="1530" y="813" width="3" height="1" fill="#000"/>
<rect x="1536" y="813" width="3" height="1" fill="#000"/>
<rect x="1542" y="813" width="3" height="1" fill="#000"/>
<rect x="1548" y="813" width="3" height="1" fill="#000"/>
<rect x="1554" y="813" width="3" height="1" fill="#000"/>
<rect x="1560" y="813" width="3" height="1" fill="#000"/>
<rect x="1566" y="813" width="3" height="1" fill="#000"/>
<rect x="1572" y="813" width="3" height="1" fill="#000"/>
<rect x="1578" y="813" width="3" height="1" fill="#000"/>
<rect x="1584" y="813" width="3" height="1" fill="#000"/>
<rect x="1590" y="813" width="3" height="1" fill="#000"/>
<rect x="1596" y="813" width="3" height="1" fill="#000"/>
<rect x="1602" y="813" width="3" height="1" fill="#000"/>
<rect x="1608" y="813" width="3" height="1" fill="#000"/>
<rect x="1614" y="813" width="3" height="1" fill="#000"/>
<rect x="1620" y="813" width="3" height="1" fill="#000"/>
<rect x="1626" y="813" width="3" height="1" fill="#000"/>
<rect x="1632" y="813" width="3" height="1" fill="#000"/>
<rect x="1638" y="813" width="3" height="1" fill="#000"/>
<g clip-path="url(#subclip)"><polyline points="5.5,784.5 21.5,781 37.5,782 53.5,782 69.5,780 85.5,783 101.5,783 117.5,777 133.5,782.5 149.5,788 165.5,781 181.5,785 197.5,785 213.5,785 229.5,785 245.5,781 261.5,778 277.5,775.5 293.5,765.5 309.5,763 325.5,764 341.5,766 357.5,772.5 373.5,770 389.5,772 405.5,769.5 421.5,769 437.5,769 453.5,763 469.5,767 485.5,764 501.5,763 517.5,763 533.5,763 549.5,774.5 565.5,775.5 581.5,778.5 597.5,779 613.5,776 629.5,774 645.5,771 661.5,769 677.5,777 693.5,773 709.5,772 725.5,771.5 741.5,761 757.5,756 773.5,760 789.5,758 805.5,757.5 821.5,757.5 837.5,756 853.5,752 869.5,751.5 885.5,749 901.5,749.5 917.5,753 933.5,751 949.5,751 965.5,751 981.5,751.5 997.5,755 1013.5,755 1029.5,748.5 1045.5,744 1061.5,742 1077.5,740 1093.5,740 1109.5,740 1125.5,740 1141.5,736 1157.5,741 1173.5,741 1189.5,741 1205.5,743 1221.5,746 1237.5,746 1253.5,746 1269.5,751.5 1285.5,751.5 1301.5,761 1317.5,756 1333.5,752 1349.5,748 1365.5,746.5 1381.5,751" fill="none" stroke="#1e90ff" stroke-width="2"/></g>
<text x="9" y="737" fill="#000" stroke="#000" stroke-width="0.15" font-size="10" textLength="68" lengthAdjust="spacingAndGlyphs" xml:space="preserve">RSI(14) 75.4786</text>
<text x="1648" y="735" fill="#000" stroke="#000" stroke-width="0.15" font-size="10" textLength="15" lengthAdjust="spacingAndGlyphs" xml:space="preserve">100</text>
<text x="1648" y="750" fill="#000" stroke="#000" stroke-width="0.15" font-size="10" textLength="9.4" lengthAdjust="spacingAndGlyphs" xml:space="preserve">80</text>
<text x="1648" y="781" fill="#000" stroke="#000" stroke-width="0.15" font-size="10" textLength="9.6" lengthAdjust="spacingAndGlyphs" xml:space="preserve">50</text>
<text x="1648" y="817" fill="#000" stroke="#000" stroke-width="0.15" font-size="10" textLength="9.3" lengthAdjust="spacingAndGlyphs" xml:space="preserve">15</text>
<text x="1648" y="826" fill="#000" stroke="#000" stroke-width="0.15" font-size="10" textLength="5" lengthAdjust="spacingAndGlyphs" xml:space="preserve">0</text>
<rect x="1645" y="726" width="1" height="1" fill="#000"/>
<rect x="1645" y="828" width="1" height="1" fill="#000"/>
<rect x="5" y="830" width="1" height="3" fill="#000"/>
<text x="4" y="842" fill="#000" stroke="#000" stroke-width="0.15" font-size="10" textLength="50" lengthAdjust="spacingAndGlyphs" xml:space="preserve">2 May 2023</text>
<rect x="69" y="830" width="1" height="3" fill="#000"/>
<text x="68" y="842" fill="#000" stroke="#000" stroke-width="0.15" font-size="10" textLength="53" lengthAdjust="spacingAndGlyphs" xml:space="preserve">3 May 00:00</text>
<rect x="133" y="830" width="1" height="3" fill="#000"/>
<text x="132" y="842" fill="#000" stroke="#000" stroke-width="0.15" font-size="10" textLength="53" lengthAdjust="spacingAndGlyphs" xml:space="preserve">3 May 18:55</text>
<rect x="197" y="830" width="1" height="3" fill="#000"/>
<text x="196" y="842" fill="#000" stroke="#000" stroke-width="0.15" font-size="10" textLength="53" lengthAdjust="spacingAndGlyphs" xml:space="preserve">4 May 10:55</text>
<rect x="261" y="830" width="1" height="3" fill="#000"/>
<text x="260" y="842" fill="#000" stroke="#000" stroke-width="0.15" font-size="10" textLength="53" lengthAdjust="spacingAndGlyphs" xml:space="preserve">5 May 00:00</text>
<rect x="325" y="830" width="1" height="3" fill="#000"/>
<text x="324" y="842" fill="#000" stroke="#000" stroke-width="0.15" font-size="10" textLength="53" lengthAdjust="spacingAndGlyphs" xml:space="preserve">5 May 18:55</text>
<rect x="389" y="830" width="1" height="3" fill="#000"/>
<text x="388" y="842" fill="#000" stroke="#000" stroke-width="0.15" font-size="10" textLength="53" lengthAdjust="spacingAndGlyphs" xml:space="preserve">8 May 10:55</text>
<rect x="453" y="830" width="1" height="3" fill="#000"/>
<text x="452" y="842" fill="#000" stroke="#000" stroke-width="0.15" font-size="10" textLength="53" lengthAdjust="spacingAndGlyphs" xml:space="preserve">9 May 00:00</text>
<rect x="517" y="830" width="1" height="3" fill="#000"/>
<text x="516" y="842" fill="#000" stroke="#000" stroke-width="0.15" font-size="10" textLength="53" lengthAdjust="spacingAndGlyphs" xml:space="preserve">9 May 18:55</text>
<rect x="581" y="830" width="1" height="3" fill="#000"/>
<text x="580" y="842" fill="#000" stroke="#000" stroke-width="0.15" font-size="10" textLength="58" lengthAdjust="spacingAndGlyphs" xml:space="preserve">10 May 10:55</text>
<rect x="645" y="830" width="1" height="3" fill="#000"/>
<text x="644" y="842" fill="#000" stroke="#000" stroke-width="0.15" font-size="10" textLength="58" lengthAdjust="spacingAndGlyphs" xml:space="preserve">11 May 00:00</text>
<rect x="709" y="830" width="1" height="3" fill="#000"/>
<text x="708" y="842" fill="#000" stroke="#000" stroke-width="0.15" font-size="10" textLength="58" lengthAdjust="spacingAndGlyphs" xml:space="preserve">11 May 18:55</text>
<rect x="773" y="830" width="1" height="3" fill="#000"/>
<text x="772" y="842" fill="#000" stroke="#000" stroke-width="0.15" font-size="10" textLength="58" lengthAdjust="spacingAndGlyphs" xml:space="preserve">12 May 10:55</text>
<rect x="837" y="830" width="1" height="3" fill="#000"/>
<text x="836" y="842" fill="#000" stroke="#000" stroke-width="0.15" font-size="10" textLength="58" lengthAdjust="spacingAndGlyphs" xml:space="preserve">15 May 00:00</text>
<rect x="901" y="830" width="1" height="3" fill="#000"/>
<text x="900" y="842" fill="#000" stroke="#000" stroke-width="0.15" font-size="10" textLength="58" lengthAdjust="spacingAndGlyphs" xml:space="preserve">15 May 18:55</text>
<rect x="965" y="830" width="1" height="3" fill="#000"/>
<text x="964" y="842" fill="#000" stroke="#000" stroke-width="0.15" font-size="10" textLength="58" lengthAdjust="spacingAndGlyphs" xml:space="preserve">16 May 10:55</text>
<rect x="1029" y="830" width="1" height="3" fill="#000"/>
<text x="1028" y="842" fill="#000" stroke="#000" stroke-width="0.15" font-size="10" textLength="58" lengthAdjust="spacingAndGlyphs" xml:space="preserve">17 May 00:00</text>
<rect x="1093" y="830" width="1" height="3" fill="#000"/>
<text x="1092" y="842" fill="#000" stroke="#000" stroke-width="0.15" font-size="10" textLength="58" lengthAdjust="spacingAndGlyphs" xml:space="preserve">17 May 18:55</text>
<rect x="1157" y="830" width="1" height="3" fill="#000"/>
<text x="1156" y="842" fill="#000" stroke="#000" stroke-width="0.15" font-size="10" textLength="58" lengthAdjust="spacingAndGlyphs" xml:space="preserve">18 May 10:55</text>
<rect x="1221" y="830" width="1" height="3" fill="#000"/>
<text x="1220" y="842" fill="#000" stroke="#000" stroke-width="0.15" font-size="10" textLength="58" lengthAdjust="spacingAndGlyphs" xml:space="preserve">19 May 00:00</text>
<rect x="1285" y="830" width="1" height="3" fill="#000"/>
<text x="1284" y="842" fill="#000" stroke="#000" stroke-width="0.15" font-size="10" textLength="58" lengthAdjust="spacingAndGlyphs" xml:space="preserve">19 May 18:55</text>
<rect x="1349" y="830" width="1" height="3" fill="#000"/>
<text x="1348" y="842" fill="#000" stroke="#000" stroke-width="0.15" font-size="10" textLength="58" lengthAdjust="spacingAndGlyphs" xml:space="preserve">22 May 10:55</text>
<g shape-rendering="geometricPrecision" clip-path="url(#tbclip)">
<rect x="5" y="0" width="1" height="16" fill="#a0a0a0" shape-rendering="crispEdges"/>
<path d="M15.500 -2h8l3 3v10.500h-11z" fill="#fff" stroke="#8a8a8a"/>
<rect x="17" y="0" width="3" height="2" fill="#8c8c8c" shape-rendering="crispEdges"/>
<rect x="17" y="4" width="6" height="1" fill="#9a9a9a" shape-rendering="crispEdges"/>
<rect x="17" y="6" width="5" height="1" fill="#9a9a9a" shape-rendering="crispEdges"/>
<rect x="17" y="8" width="2" height="1" fill="#9a9a9a" shape-rendering="crispEdges"/>
<path d="M23.500 4.500h3v4h4v3h-4v4h-3v-4h-4v-3h4z" fill="url(#gplus)" stroke="#109418" stroke-width="1"/>
<text x="33.9" y="9" font-size="12" fill="#000" stroke="#000" stroke-width="0.3" textLength="36" lengthAdjust="spacingAndGlyphs" style="font-family:'Liberation Sans','Noto Sans CJK SC',sans-serif">新订单</text>
<path d="M82.300 8.100L87 0.300L89.400 -1.500L97.200 6.100L97.800 8.300L90 13.500z" fill="url(#gold)" stroke="#a8700f" stroke-width="1"/><path d="M83.300 8.900l6.800 3.600" stroke="#f6dc8c" stroke-width="1" fill="none"/><path d="M90.600 12.300l6.600-4.600" stroke="#e9dca4" stroke-width="1.100" fill="none"/>
<rect x="112.300" y="-2" width="10.800" height="9.500" fill="url(#bluebox)"/><path d="M115.500 -1v8" stroke="#e8f6ff" stroke-width=".8"/><path d="M117.300 3.300h4.200" stroke="#f4fbff" stroke-width="1"/>
<path d="M113.300 13.400c-3.800 0-3.800-4.300-0.300-4.500c0.200-3 4.300-3.600 5.500-1.400c1.600-2.300 5.600-1.300 5.200 1.500c3.400 0.200 3.200 4.400-0.200 4.400z" fill="url(#cloud)" stroke="#46639f" stroke-width=".9"/>
<path d="M146.200 6.100L150.700 -0.500A8 8 0 0 1 146.600 14z" fill="url(#sig)" opacity=".9"/>
<g fill="none" stroke-width=".9"><circle cx="146.200" cy="6.100" r="3.300" stroke="#8fa9e6"/><circle cx="146.200" cy="6.100" r="5.600" stroke="#90aae8" opacity=".85"/><circle cx="146.200" cy="6.100" r="7.800" stroke="#9db4ea" opacity=".7"/></g>
<path d="M150.600 -0.300A7.800 7.800 0 0 1 149 13.300" fill="none" stroke="#3f8f50" stroke-width="1" opacity=".7"/>
<circle cx="146" cy="5.800" r="1.900" fill="#2456d6"/><path d="M146.600 6.200v7.600" stroke="#1fa01f" stroke-width="1.500"/>
<path d="M165.600 4.900c4.500 1.800 10.600 1.500 15.200-0.200l-7.900 9.200z" fill="url(#fun)" stroke="#cfa11c" stroke-width=".8"/>
<path d="M165.300 3.600c0.500-2.200 3-2.400 4-3.200c0.800-1.500 1.500-2.400 3.700-2.400s3.300 0.900 4 2.400c1.500 0.700 3.700 1 4 3c-4 2.400-11.500 2.600-15.700 0.200z" fill="url(#hat)" stroke="#2a84b8" stroke-width=".8"/>
<circle cx="177.500" cy="9.500" r="4.200" fill="url(#redc)"/>
<rect x="176" y="8" width="3" height="3" fill="#fff" shape-rendering="crispEdges"/>
<text x="185.900" y="9" font-size="12" fill="#000" stroke="#000" stroke-width="0.3" textLength="48" lengthAdjust="spacingAndGlyphs" style="font-family:'Liberation Sans','Noto Sans CJK SC',sans-serif">自动交易</text>
<rect x="241" y="0" width="1" height="18" fill="#a0a0a0" shape-rendering="crispEdges"/>
<rect x="245" y="0" width="3" height="1" fill="#979797" shape-rendering="crispEdges"/>
<rect x="245" y="2" width="3" height="1" fill="#979797" shape-rendering="crispEdges"/>
<rect x="245" y="4" width="3" height="1" fill="#979797" shape-rendering="crispEdges"/>
<rect x="245" y="6" width="3" height="1" fill="#979797" shape-rendering="crispEdges"/>
<rect x="245" y="8" width="3" height="1" fill="#979797" shape-rendering="crispEdges"/>
<rect x="245" y="10" width="3" height="1" fill="#979797" shape-rendering="crispEdges"/>
<rect x="245" y="12" width="3" height="1" fill="#979797" shape-rendering="crispEdges"/>
<rect x="245" y="14" width="3" height="1" fill="#979797" shape-rendering="crispEdges"/>
<rect x="259" y="0" width="1" height="14" fill="#505050" shape-rendering="crispEdges"/>
<rect x="257" y="11" width="14" height="1" fill="#505050" shape-rendering="crispEdges"/>
<rect x="258" y="1" width="3" height="1" fill="#505050" shape-rendering="crispEdges"/>
<rect x="269" y="10" width="1" height="3" fill="#505050" shape-rendering="crispEdges"/>
<rect x="265" y="2" width="1" height="7" fill="#129a12" shape-rendering="crispEdges"/>
<rect x="266" y="2" width="2" height="1" fill="#129a12" shape-rendering="crispEdges"/>
<rect x="263" y="8" width="2" height="1" fill="#129a12" shape-rendering="crispEdges"/>
<rect x="280" y="0" width="24" height="16" fill="url(#chk)" shape-rendering="crispEdges"/>
<rect x="279" y="0" width="1" height="16" fill="#838383" shape-rendering="crispEdges"/>
<rect x="304" y="0" width="1" height="17" fill="#fdfdfd" shape-rendering="crispEdges"/>
<rect x="279" y="16" width="26" height="1" fill="#fdfdfd" shape-rendering="crispEdges"/>
<rect x="287" y="0" width="1" height="14" fill="#505050" shape-rendering="crispEdges"/>
<rect x="285" y="11" width="14" height="1" fill="#505050" shape-rendering="crispEdges"/>
<rect x="286" y="1" width="3" height="1" fill="#505050" shape-rendering="crispEdges"/>
<rect x="297" y="10" width="1" height="3" fill="#505050" shape-rendering="crispEdges"/>
<rect x="291.500" y="-2" width="4" height="10" fill="#3fe04a" stroke="#109a18" stroke-width="1"/>
<rect x="293" y="8" width="1" height="2" fill="#109a18" shape-rendering="crispEdges"/>
<rect x="315" y="0" width="1" height="14" fill="#505050" shape-rendering="crispEdges"/>
<rect x="313" y="11" width="14" height="1" fill="#505050" shape-rendering="crispEdges"/>
<rect x="314" y="1" width="3" height="1" fill="#505050" shape-rendering="crispEdges"/>
<rect x="325" y="10" width="1" height="3" fill="#505050" shape-rendering="crispEdges"/>
<path d="M314 8.800c2.500-1 3.500-5 6-5.500c2 0 3.500 3 5.800 4" fill="none" stroke="#2f9a2f" stroke-width="1.100"/>
<rect x="336" y="0" width="1" height="16" fill="#a0a0a0" shape-rendering="crispEdges"/>
<path d="M355.2 7.600l4.600 5.300" stroke="#a87c10" stroke-width="3.600"/><path d="M355.2 7.600l4.500 5.200" stroke="#f0d224" stroke-width="2.200"/><circle cx="351" cy="3.800" r="5.500" fill="#dcf1fc" stroke="#2a70c0" stroke-width="1.200"/><path d="M347.7 3.900h6.600" stroke="#3a86b6" stroke-width="1.600"/>
<path d="M351 0.600v6.600" stroke="#3a86b6" stroke-width="1.600"/>
<path d="M383.2 7.600l4.600 5.300" stroke="#a87c10" stroke-width="3.600"/><path d="M383.2 7.600l4.500 5.200" stroke="#f0d224" stroke-width="2.200"/><circle cx="379" cy="3.800" r="5.500" fill="#dcf1fc" stroke="#2a70c0" stroke-width="1.200"/><path d="M375.7 3.900h6.600" stroke="#3a86b6" stroke-width="1.600"/>
<rect x="401.100" y="-2" width="7.800" height="7.700" fill="url(#tg)"/><rect x="408.900" y="-2" width="8.100" height="7.700" fill="url(#tb)"/><rect x="401.100" y="6.200" width="7.800" height="7.600" rx=".6" fill="url(#tb)"/><rect x="408.900" y="6.200" width="8.100" height="7.600" rx=".6" fill="url(#tg)"/>
<path d="M402.2 1.1h5.800v3.800h-1v-1h-3.800v1h-1z" fill="#fff"/><rect x="403.4" y="2.1" width="3.400" height=".9" fill="#a8dc88"/>
<path d="M410 1.1h5.800v3.800h-1v-1h-3.800v1h-1z" fill="#fff"/><rect x="411.2" y="2.1" width="3.400" height=".9" fill="#9cb8f0"/>
<path d="M402.2 8.800h5.800v3.800h-1v-1h-3.800v1h-1z" fill="#fff"/><rect x="403.4" y="9.800" width="3.400" height=".9" fill="#9cb8f0"/>
<path d="M410 8.800h5.800v3.800h-1v-1h-3.800v1h-1z" fill="#fff"/><rect x="411.2" y="9.800" width="3.400" height=".9" fill="#a8dc88"/>
<rect x="426" y="0" width="1" height="16" fill="#a0a0a0" shape-rendering="crispEdges"/>
<rect x="432" y="0" width="24" height="16" fill="url(#chk)" shape-rendering="crispEdges"/>
<rect x="431" y="0" width="1" height="16" fill="#838383" shape-rendering="crispEdges"/>
<rect x="456" y="0" width="1" height="17" fill="#fdfdfd" shape-rendering="crispEdges"/>
<rect x="431" y="16" width="26" height="1" fill="#fdfdfd" shape-rendering="crispEdges"/>
<rect x="439" y="0" width="1" height="14" fill="#505050" shape-rendering="crispEdges"/>
<rect x="437" y="11" width="14" height="1" fill="#505050" shape-rendering="crispEdges"/>
<rect x="438" y="1" width="3" height="1" fill="#505050" shape-rendering="crispEdges"/>
<rect x="449" y="10" width="1" height="3" fill="#505050" shape-rendering="crispEdges"/>
<path d="M444.400 2.200l3.800 3.300-3.800 3.400z" fill="#7fe88c" stroke="#109a20" stroke-width=".9"/>
<rect x="460" y="0" width="24" height="16" fill="url(#chk)" shape-rendering="crispEdges"/>
<rect x="459" y="0" width="1" height="16" fill="#838383" shape-rendering="crispEdges"/>
<rect x="484" y="0" width="1" height="17" fill="#fdfdfd" shape-rendering="crispEdges"/>
<rect x="459" y="16" width="26" height="1" fill="#fdfdfd" shape-rendering="crispEdges"/>
<rect x="467" y="0" width="1" height="14" fill="#505050" shape-rendering="crispEdges"/>
<rect x="465" y="11" width="14" height="1" fill="#505050" shape-rendering="crispEdges"/>
<rect x="466" y="1" width="3" height="1" fill="#505050" shape-rendering="crispEdges"/>
<rect x="477" y="10" width="1" height="3" fill="#505050" shape-rendering="crispEdges"/>
<path d="M473.500 0v10" stroke="#2a7fb8" stroke-width="1.200"/><path d="M479 5.500h-4.500M476.800 3.300l-2.400 2.200 2.400 2.200" stroke="#d2501a" stroke-width="1.100" fill="none"/>
<rect x="488" y="0" width="1" height="16" fill="#a0a0a0" shape-rendering="crispEdges"/>
<path d="M498.500 -2h8l3.500 3v10.500h-11.500z" fill="#fff" stroke="#8a8a8a"/>
<rect x="500" y="2" width="3" height="1" fill="#9a9a9a" shape-rendering="crispEdges"/>
<rect x="500" y="5" width="3" height="1" fill="#9a9a9a" shape-rendering="crispEdges"/>
<path d="M507 4.500h3v4h4v3h-4v4h-3v-4h-4v-3h4z" fill="url(#gplus)" stroke="#109418" stroke-width="1"/>
<rect x="520" y="5" width="5" height="1" fill="#000" shape-rendering="crispEdges"/>
<rect x="521" y="6" width="3" height="1" fill="#000" shape-rendering="crispEdges"/>
<rect x="522" y="7" width="1" height="1" fill="#000" shape-rendering="crispEdges"/>
<circle cx="544" cy="5.700" r="7" fill="#f2f6fa" stroke="url(#clk)" stroke-width="2.300"/><circle cx="544" cy="5.700" r="4.600" fill="none" stroke="#9aa0a8" stroke-width=".9" stroke-dasharray=".7 1.700"/><path d="M543.600 2.200v4h3.400" stroke="#111" stroke-width="1.300" fill="none"/><path d="M543.200 8.400h1.600" stroke="#3a8cf0" stroke-width=".8"/>
<rect x="559" y="5" width="5" height="1" fill="#000" shape-rendering="crispEdges"/>
<rect x="560" y="6" width="3" height="1" fill="#000" shape-rendering="crispEdges"/>
<rect x="561" y="7" width="1" height="1" fill="#000" shape-rendering="crispEdges"/>
<rect x="575.800" y="-2" width="14.700" height="14.500" fill="#fff" stroke="#3a7fd0" stroke-width="1.200"/><rect x="576.400" y="-2" width="13.500" height="3.600" fill="#5c9ee6"/><path d="M576.400 7.200h13.500" stroke="#3a7fd0" stroke-width="1"/><path d="M577.500 5.500l2-0.100 1.500-1.400 1.800 0.200 1.600 0.900 1.800-0.300 1.600-1.100 1.200 0.100" stroke="#a02408" stroke-width="1.200" fill="none"/><path d="M578.200 10.300l1.600-0.100 1.400-0.900 1.600 1 1.600-0.400 1.700-1.700 1.300 0.500 1.400 1.900" stroke="#0f8f20" stroke-width="1.200" fill="none"/>
<rect x="598" y="5" width="5" height="1" fill="#000" shape-rendering="crispEdges"/>
<rect x="599" y="6" width="3" height="1" fill="#000" shape-rendering="crispEdges"/>
<rect x="600" y="7" width="1" height="1" fill="#000" shape-rendering="crispEdges"/>
<rect x="609" y="0" width="1" height="18" fill="#a0a0a0" shape-rendering="crispEdges"/>
<rect x="613" y="0" width="3" height="1" fill="#979797" shape-rendering="crispEdges"/>
<rect x="613" y="2" width="3" height="1" fill="#979797" shape-rendering="crispEdges"/>
<rect x="613" y="4" width="3" height="1" fill="#979797" shape-rendering="crispEdges"/>
<rect x="613" y="6" width="3" height="1" fill="#979797" shape-rendering="crispEdges"/>
<rect x="613" y="8" width="3" height="1" fill="#979797" shape-rendering="crispEdges"/>
<rect x="613" y="10" width="3" height="1" fill="#979797" shape-rendering="crispEdges"/>
<rect x="613" y="12" width="3" height="1" fill="#979797" shape-rendering="crispEdges"/>
<rect x="613" y="14" width="3" height="1" fill="#979797" shape-rendering="crispEdges"/>
<rect x="620" y="0" width="24" height="16" fill="url(#chk)" shape-rendering="crispEdges"/>
<rect x="619" y="0" width="1" height="16" fill="#838383" shape-rendering="crispEdges"/>
<rect x="644" y="0" width="1" height="17" fill="#fdfdfd" shape-rendering="crispEdges"/>
<rect x="619" y="16" width="26" height="1" fill="#fdfdfd" shape-rendering="crispEdges"/>
<path d="M627.500 -1.500v13l3-2.800 2.300 4.800 2-1-2.300-4.600h4z" fill="#505050"/>
<rect x="659" y="0" width="1" height="14" fill="#4a4a4a" shape-rendering="crispEdges"/>
<rect x="652" y="6" width="15" height="1" fill="#4a4a4a" shape-rendering="crispEdges"/>
<rect x="659" y="6" width="1" height="1" fill="#f0f0f0" shape-rendering="crispEdges"/>
<rect x="676" y="0" width="1" height="16" fill="#a0a0a0" shape-rendering="crispEdges"/>
<rect x="693" y="0" width="1" height="13" fill="#4a4a4a" shape-rendering="crispEdges"/>
<rect x="716" y="6" width="12" height="1" fill="#4a4a4a" shape-rendering="crispEdges"/>
<path d="M743.800 13l12.500-12.200" stroke="#4a4a4a" stroke-width="1.100"/>
<path d="M770 8l11-9M774 13l10-8.500" stroke="#4a4a4a" stroke-width="1"/><path d="M772 7.500l2 4.500M774.500 5.500l2 4.500M777 3.500l2 4.500M779.500 1.500l2 4" stroke="#4a4a4a" stroke-width=".9"/>
<rect x="781" y="10" width="1" height="5" fill="#222" shape-rendering="crispEdges"/>
<rect x="781" y="10" width="4" height="1" fill="#222" shape-rendering="crispEdges"/>
<rect x="781" y="12" width="3" height="1" fill="#222" shape-rendering="crispEdges"/>
<rect x="781" y="14" width="4" height="1" fill="#222" shape-rendering="crispEdges"/>
<rect x="799" y="2" width="1" height="1" fill="#4a4a4a" shape-rendering="crispEdges"/>
<rect x="801" y="2" width="1" height="1" fill="#4a4a4a" shape-rendering="crispEdges"/>
<rect x="803" y="2" width="1" height="1" fill="#4a4a4a" shape-rendering="crispEdges"/>
<rect x="805" y="2" width="1" height="1" fill="#4a4a4a" shape-rendering="crispEdges"/>
<rect x="807" y="2" width="1" height="1" fill="#4a4a4a" shape-rendering="crispEdges"/>
<rect x="809" y="2" width="1" height="1" fill="#4a4a4a" shape-rendering="crispEdges"/>
<rect x="811" y="2" width="1" height="1" fill="#4a4a4a" shape-rendering="crispEdges"/>
<rect x="799" y="6" width="1" height="1" fill="#4a4a4a" shape-rendering="crispEdges"/>
<rect x="801" y="6" width="1" height="1" fill="#4a4a4a" shape-rendering="crispEdges"/>
<rect x="803" y="6" width="1" height="1" fill="#4a4a4a" shape-rendering="crispEdges"/>
<rect x="805" y="6" width="1" height="1" fill="#4a4a4a" shape-rendering="crispEdges"/>
<rect x="807" y="6" width="1" height="1" fill="#4a4a4a" shape-rendering="crispEdges"/>
<rect x="809" y="6" width="1" height="1" fill="#4a4a4a" shape-rendering="crispEdges"/>
<rect x="811" y="6" width="1" height="1" fill="#4a4a4a" shape-rendering="crispEdges"/>
<rect x="799" y="10" width="1" height="1" fill="#4a4a4a" shape-rendering="crispEdges"/>
<rect x="801" y="10" width="1" height="1" fill="#4a4a4a" shape-rendering="crispEdges"/>
<rect x="803" y="10" width="1" height="1" fill="#4a4a4a" shape-rendering="crispEdges"/>
<rect x="805" y="10" width="1" height="1" fill="#4a4a4a" shape-rendering="crispEdges"/>
<rect x="807" y="10" width="1" height="1" fill="#4a4a4a" shape-rendering="crispEdges"/>
<rect x="809" y="10" width="1" height="5" fill="#222" shape-rendering="crispEdges"/>
<rect x="809" y="10" width="4" height="1" fill="#222" shape-rendering="crispEdges"/>
<rect x="809" y="12" width="3" height="1" fill="#222" shape-rendering="crispEdges"/>
<text x="829.600" y="10.900" font-size="11.600" fill="#505050" stroke="#505050" stroke-width=".35" textLength="8.200" lengthAdjust="spacingAndGlyphs">A</text>
<rect x="856" y="12" width="1" height="1" fill="#4a4a4a" shape-rendering="crispEdges"/>
<rect x="858" y="12" width="1" height="1" fill="#4a4a4a" shape-rendering="crispEdges"/>
<rect x="860" y="12" width="1" height="1" fill="#4a4a4a" shape-rendering="crispEdges"/>
<rect x="862" y="12" width="1" height="1" fill="#4a4a4a" shape-rendering="crispEdges"/>
<rect x="864" y="12" width="1" height="1" fill="#4a4a4a" shape-rendering="crispEdges"/>
<rect x="866" y="12" width="1" height="1" fill="#4a4a4a" shape-rendering="crispEdges"/>
<rect x="856" y="0" width="1" height="1" fill="#4a4a4a" shape-rendering="crispEdges"/>
<rect x="867" y="0" width="1" height="1" fill="#4a4a4a" shape-rendering="crispEdges"/>
<rect x="856" y="2" width="1" height="1" fill="#4a4a4a" shape-rendering="crispEdges"/>
<rect x="867" y="2" width="1" height="1" fill="#4a4a4a" shape-rendering="crispEdges"/>
<rect x="856" y="4" width="1" height="1" fill="#4a4a4a" shape-rendering="crispEdges"/>
<rect x="867" y="4" width="1" height="1" fill="#4a4a4a" shape-rendering="crispEdges"/>
<rect x="856" y="6" width="1" height="1" fill="#4a4a4a" shape-rendering="crispEdges"/>
<rect x="867" y="6" width="1" height="1" fill="#4a4a4a" shape-rendering="crispEdges"/>
<rect x="856" y="8" width="1" height="1" fill="#4a4a4a" shape-rendering="crispEdges"/>
<rect x="867" y="8" width="1" height="1" fill="#4a4a4a" shape-rendering="crispEdges"/>
<rect x="856" y="10" width="1" height="1" fill="#4a4a4a" shape-rendering="crispEdges"/>
<rect x="867" y="10" width="1" height="1" fill="#4a4a4a" shape-rendering="crispEdges"/>
<rect x="856" y="12" width="1" height="1" fill="#4a4a4a" shape-rendering="crispEdges"/>
<rect x="867" y="12" width="1" height="1" fill="#4a4a4a" shape-rendering="crispEdges"/>
<rect x="858" y="3" width="8" height="2" fill="#505050" shape-rendering="crispEdges"/>
<rect x="861" y="3" width="2" height="8" fill="#505050" shape-rendering="crispEdges"/>
<path d="M886.700 -0.500l3.300 3.200-3.300 2.300-3.300-2.300z" fill="#4a4a4a"/><path d="M893.800 7l3.300 2.600-3.300 3.400-3.300-3.400z" fill="#4a4a4a"/><path d="M884.500 7.200l2.200 2.200 4.500-5.500" stroke="#4a4a4a" stroke-width="1.200" fill="none"/>
<rect x="904" y="5" width="5" height="1" fill="#000" shape-rendering="crispEdges"/>
<rect x="905" y="6" width="3" height="1" fill="#000" shape-rendering="crispEdges"/>
<rect x="906" y="7" width="1" height="1" fill="#000" shape-rendering="crispEdges"/>
<rect x="915" y="0" width="1" height="18" fill="#a0a0a0" shape-rendering="crispEdges"/>
<rect x="919" y="0" width="3" height="1" fill="#979797" shape-rendering="crispEdges"/>
<rect x="919" y="2" width="3" height="1" fill="#979797" shape-rendering="crispEdges"/>
<rect x="919" y="4" width="3" height="1" fill="#979797" shape-rendering="crispEdges"/>
<rect x="919" y="6" width="3" height="1" fill="#979797" shape-rendering="crispEdges"/>
<rect x="919" y="8" width="3" height="1" fill="#979797" shape-rendering="crispEdges"/>
<rect x="919" y="10" width="3" height="1" fill="#979797" shape-rendering="crispEdges"/>
<rect x="919" y="12" width="3" height="1" fill="#979797" shape-rendering="crispEdges"/>
<rect x="919" y="14" width="3" height="1" fill="#979797" shape-rendering="crispEdges"/>
<rect x="1066" y="0" width="25" height="16" fill="url(#chk)" shape-rendering="crispEdges"/>
<rect x="1065" y="0" width="1" height="16" fill="#838383" shape-rendering="crispEdges"/>
<rect x="1091" y="0" width="1" height="17" fill="#fdfdfd" shape-rendering="crispEdges"/>
<rect x="1065" y="16" width="27" height="1" fill="#fdfdfd" shape-rendering="crispEdges"/>
<text x="930.3" y="10" font-size="10" fill="#2e2e2e" textLength="13.3" lengthAdjust="spacingAndGlyphs">M1</text>
<text x="958.4" y="10" font-size="10" fill="#2e2e2e" textLength="13.3" lengthAdjust="spacingAndGlyphs">M5</text>
<text x="984.2" y="10" font-size="10" fill="#2e2e2e" textLength="18.3" lengthAdjust="spacingAndGlyphs">M15</text>
<text x="1012.3" y="10" font-size="10" fill="#2e2e2e" textLength="18.3" lengthAdjust="spacingAndGlyphs">M30</text>
<text x="1043.2" y="10" font-size="10" fill="#2e2e2e" textLength="12.2" lengthAdjust="spacingAndGlyphs">H1</text>
<text x="1070.3" y="10" font-size="10" fill="#2e2e2e" textLength="13.2" lengthAdjust="spacingAndGlyphs">H4</text>
<text x="1099.3" y="10" font-size="10" fill="#2e2e2e" textLength="12.4" lengthAdjust="spacingAndGlyphs">D1</text>
<text x="1126.8" y="10" font-size="10" fill="#2e2e2e" textLength="14.8" lengthAdjust="spacingAndGlyphs">W1</text>
<text x="1153.3" y="10" font-size="10" fill="#2e2e2e" textLength="15.6" lengthAdjust="spacingAndGlyphs">MN</text>
<rect x="1176" y="0" width="1" height="18" fill="#a0a0a0" shape-rendering="crispEdges"/>
<path d="M1643.700 6.800l-4.300 4" stroke="#1a56d0" stroke-width="2.700" stroke-linecap="round"/><path d="M1642.300 7l1.600 1.600M1641 8.200l1.600 1.600M1639.700 9.400l1.600 1.600" stroke="#6f9ae8" stroke-width=".5"/><circle cx="1646.700" cy="3.500" r="4.100" fill="#f6f8ff" stroke="#2563dc" stroke-width="1.300"/>
<path d="M1663 8.200c0-2.900 2.400-4.600 5.500-4.600s5.500 1.700 5.500 4.600-2.400 4.300-5.500 4.300h-0.600l-1.700 2.200 0.200-2.500c-2-0.600-3.400-2-3.400-4z" fill="url(#cloud)" stroke="#a4a6ac" stroke-width=".9"/>
<circle cx="1677.400" cy="3.100" r="8.600" fill="url(#badge)"/><rect x="1675.500" y="-2" width="1.900" height="9.500" fill="#fff"/><rect x="1674.100" y="6.900" width="4.900" height="1.100" fill="#fff"/>
</g>
</svg>
</body></html>
